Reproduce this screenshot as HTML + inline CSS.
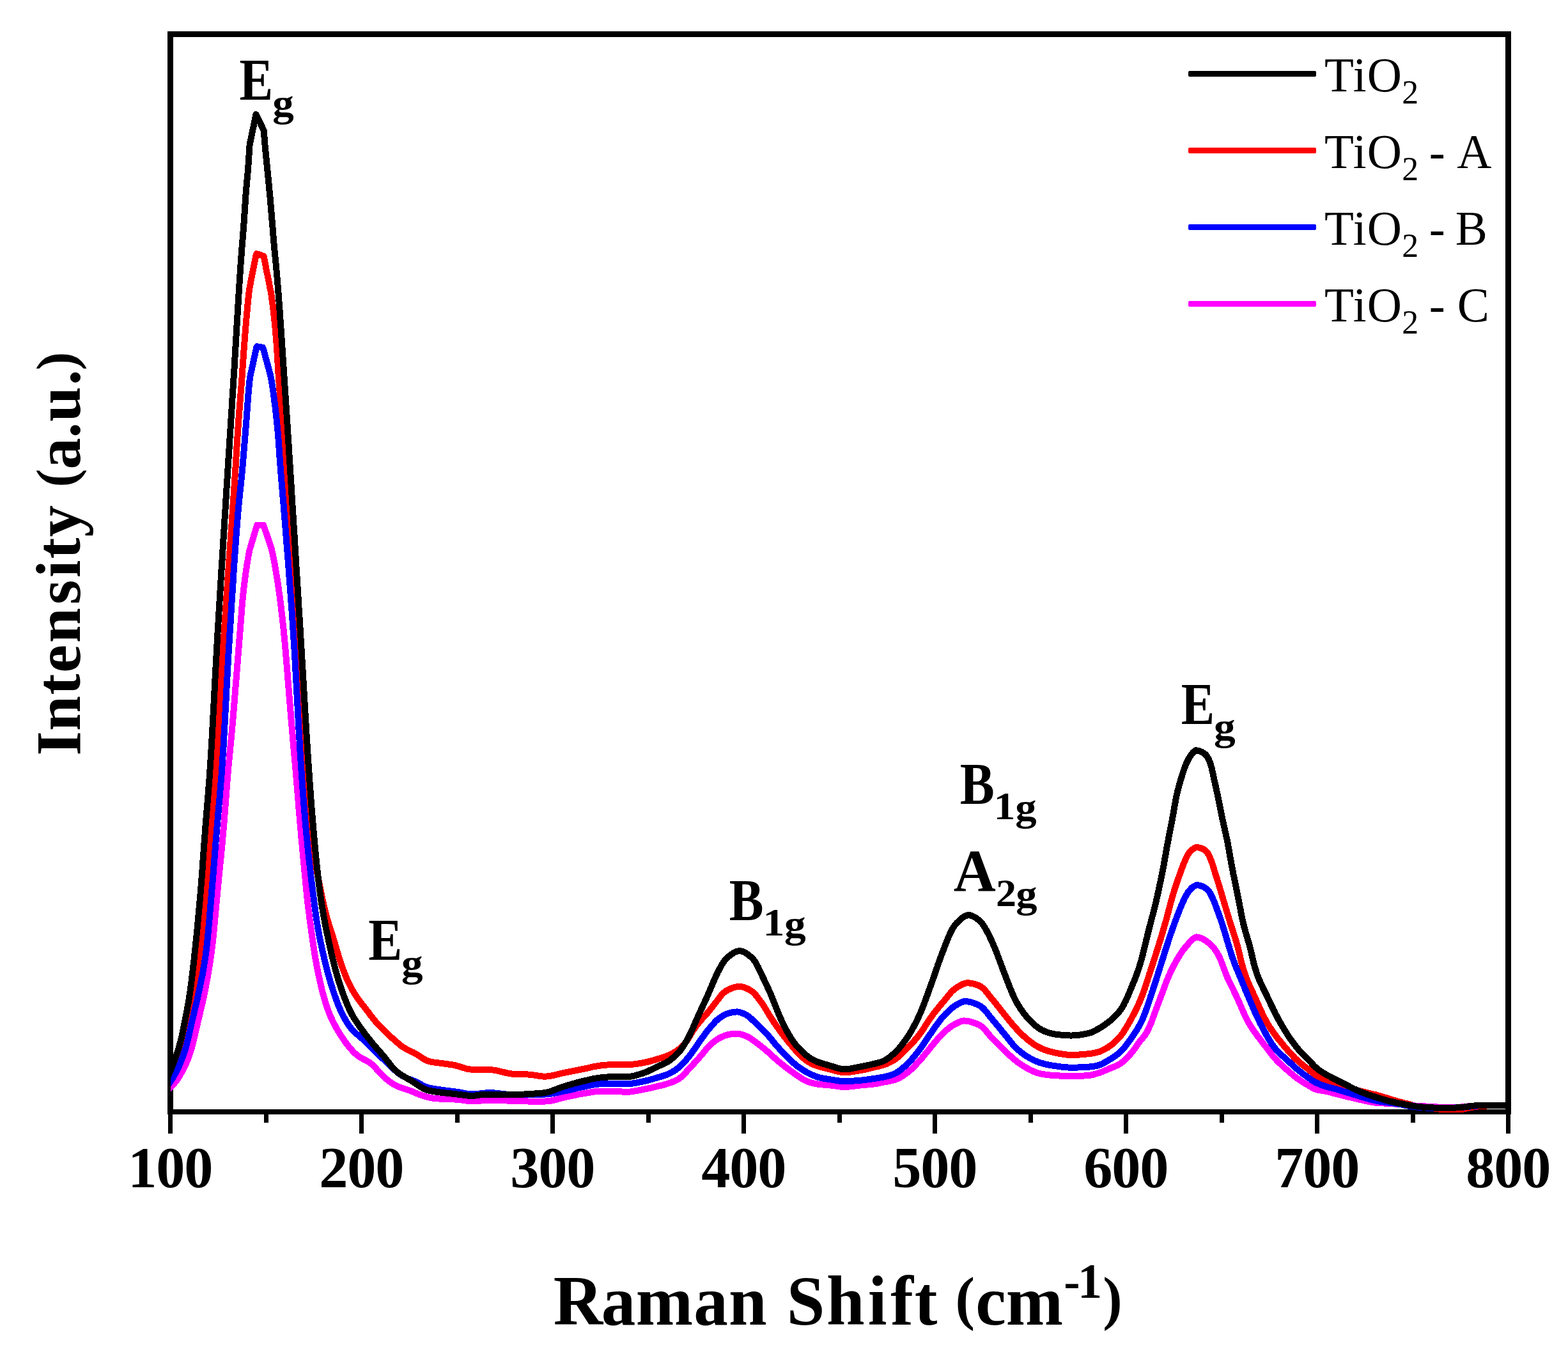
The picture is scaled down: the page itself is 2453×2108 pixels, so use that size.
<!DOCTYPE html>
<html lang="en"><head><meta charset="utf-8"><title>Raman spectra of TiO2 samples</title>
<style>html,body{margin:0;padding:0;background:#fff}body{width:2453px;height:2108px;overflow:hidden}svg{display:block}text{font-family:"Liberation Serif","DejaVu Serif",serif;font-kerning:none;white-space:pre}</style></head><body>
<svg width="2453" height="2108" viewBox="0 0 2453 2108">
<rect width="2453" height="2108" fill="#fff"/>
<g shape-rendering="crispEdges" fill="#000">
<rect x="262" y="49" width="2102" height="9"/>
<rect x="262" y="1736" width="2102" height="8"/>
<rect x="262" y="49" width="9" height="1695"/>
<rect x="2355" y="49" width="9" height="1695"/>
<rect x="263.0" y="1744" width="7" height="30"/>
<rect x="562.0" y="1744" width="7" height="30"/>
<rect x="861.0" y="1744" width="7" height="30"/>
<rect x="1160.0" y="1744" width="7" height="30"/>
<rect x="1459.0" y="1744" width="7" height="30"/>
<rect x="1758.0" y="1744" width="7" height="30"/>
<rect x="2057.0" y="1744" width="7" height="30"/>
<rect x="2356.0" y="1744" width="7" height="30"/>
<rect x="412.5" y="1744" width="7" height="13"/>
<rect x="711.5" y="1744" width="7" height="13"/>
<rect x="1010.5" y="1744" width="7" height="13"/>
<rect x="1309.5" y="1744" width="7" height="13"/>
<rect x="1608.5" y="1744" width="7" height="13"/>
<rect x="1907.5" y="1744" width="7" height="13"/>
<rect x="2206.5" y="1744" width="7" height="13"/>
</g>
<defs><clipPath id="plot"><rect x="267" y="54" width="2093" height="1690"/></clipPath></defs>
<g clip-path="url(#plot)" shape-rendering="crispEdges" fill="none" stroke-width="10" stroke-linejoin="round" stroke-linecap="butt">
<path d="M255.0 1702.0 L256.3 1699.3 L257.6 1696.6 L258.9 1693.9 L260.2 1691.2 L261.5 1688.5 L262.8 1685.8 L264.0 1683.0 L265.3 1680.3 L266.5 1677.6 L267.7 1674.8 L268.9 1672.1 L270.0 1669.3 L271.2 1666.5 L272.4 1663.8 L273.5 1661.0 L274.7 1658.2 L275.8 1655.4 L276.9 1652.6 L278.0 1649.8 L279.0 1647.0 L280.0 1644.2 L281.0 1641.4 L281.9 1638.5 L282.8 1635.7 L283.6 1632.8 L284.4 1629.9 L285.2 1627.0 L285.9 1624.1 L286.7 1621.2 L287.4 1618.2 L288.0 1615.3 L288.7 1612.4 L289.4 1609.5 L290.0 1606.5 L290.7 1603.6 L291.4 1600.7 L292.1 1597.8 L292.8 1594.9 L293.5 1591.9 L294.2 1589.0 L294.9 1586.1 L295.6 1583.2 L296.2 1580.3 L296.9 1577.3 L297.6 1574.4 L298.2 1571.5 L298.9 1568.6 L299.5 1565.6 L300.1 1562.7 L300.7 1559.7 L301.3 1556.8 L301.9 1553.9 L302.5 1550.9 L303.0 1548.0 L303.6 1545.0 L304.1 1542.1 L304.7 1539.1 L305.2 1536.2 L305.7 1533.2 L306.2 1530.2 L306.7 1527.3 L307.2 1524.3 L307.7 1521.4 L308.2 1518.4 L308.6 1515.4 L309.1 1512.5 L309.5 1509.5 L310.0 1506.5 L310.4 1503.6 L310.8 1500.6 L311.2 1497.6 L311.6 1494.7 L312.0 1491.7 L312.4 1488.7 L312.8 1485.7 L313.2 1482.7 L313.5 1479.8 L313.9 1476.8 L314.2 1473.8 L314.6 1470.8 L314.9 1467.8 L315.2 1464.9 L315.5 1461.9 L315.8 1458.9 L316.1 1455.9 L316.4 1452.9 L316.7 1449.9 L317.0 1447.0 L317.3 1444.0 L317.6 1441.0 L317.9 1438.0 L318.2 1435.0 L318.5 1432.0 L318.7 1429.0 L319.0 1426.0 L319.3 1423.1 L319.6 1420.1 L319.8 1417.1 L320.1 1414.1 L320.4 1411.1 L320.6 1408.1 L320.9 1405.1 L321.2 1402.1 L321.5 1399.1 L321.7 1396.2 L322.0 1393.2 L322.2 1390.2 L322.5 1387.2 L322.8 1384.2 L323.0 1381.2 L323.3 1378.2 L323.5 1375.2 L323.7 1372.2 L324.0 1369.3 L324.2 1366.3 L324.5 1363.3 L324.7 1360.3 L324.9 1357.3 L325.2 1354.3 L325.4 1351.3 L325.6 1348.3 L325.8 1345.3 L326.1 1342.3 L326.3 1339.3 L326.5 1336.3 L326.8 1333.4 L327.0 1330.4 L327.2 1327.4 L327.5 1324.4 L327.7 1321.4 L327.9 1318.4 L328.2 1315.4 L328.4 1312.4 L328.6 1309.4 L328.9 1306.4 L329.1 1303.4 L329.4 1300.4 L329.6 1297.5 L329.9 1294.5 L330.2 1291.5 L330.4 1288.5 L330.7 1285.5 L331.0 1282.5 L331.2 1279.5 L331.5 1276.5 L331.8 1273.6 L332.1 1270.6 L332.4 1267.6 L332.7 1264.6 L333.0 1261.6 L333.3 1258.6 L333.6 1255.6 L333.9 1252.7 L334.2 1249.7 L334.5 1246.7 L334.7 1243.7 L335.0 1240.7 L335.3 1237.7 L335.6 1234.7 L335.9 1231.7 L336.1 1228.8 L336.4 1225.8 L336.7 1222.8 L336.9 1219.8 L337.2 1216.8 L337.4 1213.8 L337.6 1210.8 L337.9 1207.8 L338.1 1204.8 L338.3 1201.8 L338.6 1198.8 L338.8 1195.9 L339.0 1192.9 L339.2 1189.9 L339.4 1186.9 L339.6 1183.9 L339.8 1180.9 L340.0 1177.9 L340.2 1174.9 L340.3 1171.9 L340.5 1168.9 L340.7 1165.9 L340.9 1162.9 L341.1 1159.9 L341.3 1156.9 L341.4 1153.9 L341.6 1150.9 L341.8 1147.9 L341.9 1144.9 L342.1 1142.0 L342.3 1139.0 L342.5 1136.0 L342.6 1133.0 L342.8 1130.0 L343.0 1127.0 L343.1 1124.0 L343.3 1121.0 L343.4 1118.0 L343.6 1115.0 L343.8 1112.0 L343.9 1109.0 L344.1 1106.0 L344.3 1103.0 L344.4 1100.0 L344.6 1097.0 L344.7 1094.0 L344.9 1091.0 L345.1 1088.0 L345.2 1085.0 L345.4 1082.0 L345.5 1079.0 L345.7 1076.0 L345.9 1073.0 L346.0 1070.0 L346.2 1067.0 L346.4 1064.1 L346.5 1061.1 L346.7 1058.1 L346.8 1055.1 L347.0 1052.1 L347.2 1049.1 L347.3 1046.1 L347.5 1043.1 L347.7 1040.1 L347.8 1037.1 L348.0 1034.1 L348.2 1031.1 L348.3 1028.1 L348.5 1025.1 L348.7 1022.1 L348.9 1019.1 L349.0 1016.1 L349.2 1013.1 L349.4 1010.1 L349.6 1007.1 L349.8 1004.1 L350.0 1001.1 L350.1 998.2 L350.3 995.2 L350.5 992.2 L350.7 989.2 L350.9 986.2 L351.1 983.2 L351.3 980.2 L351.5 977.2 L351.7 974.2 L351.9 971.2 L352.1 968.2 L352.3 965.2 L352.5 962.2 L352.7 959.2 L352.9 956.2 L353.1 953.2 L353.3 950.2 L353.5 947.3 L353.7 944.3 L353.9 941.3 L354.1 938.3 L354.3 935.3 L354.5 932.3 L354.7 929.3 L354.9 926.3 L355.1 923.3 L355.4 920.3 L355.6 917.3 L355.8 914.3 L356.0 911.3 L356.2 908.3 L356.4 905.3 L356.6 902.4 L356.8 899.4 L357.0 896.4 L357.3 893.4 L357.5 890.4 L357.7 887.4 L357.9 884.4 L358.1 881.4 L358.3 878.4 L358.5 875.4 L358.7 872.4 L359.0 869.4 L359.2 866.4 L359.4 863.4 L359.6 860.5 L359.8 857.5 L360.0 854.5 L360.2 851.5 L360.5 848.5 L360.7 845.5 L360.9 842.5 L361.1 839.5 L361.3 836.5 L361.5 833.5 L361.7 830.5 L361.9 827.5 L362.1 824.5 L362.4 821.5 L362.6 818.5 L362.8 815.6 L363.0 812.6 L363.2 809.6 L363.4 806.6 L363.6 803.6 L363.8 800.6 L364.0 797.6 L364.2 794.6 L364.4 791.6 L364.6 788.6 L364.8 785.6 L365.1 782.6 L365.3 779.6 L365.5 776.6 L365.7 773.6 L365.9 770.7 L366.1 767.7 L366.3 764.7 L366.5 761.7 L366.7 758.7 L366.9 755.7 L367.1 752.7 L367.3 749.7 L367.5 746.7 L367.7 743.7 L367.9 740.7 L368.1 737.7 L368.3 734.7 L368.5 731.7 L368.7 728.7 L368.8 725.7 L369.0 722.8 L369.2 719.8 L369.4 716.8 L369.6 713.8 L369.8 710.8 L370.0 707.8 L370.1 704.8 L370.3 701.8 L370.5 698.8 L370.7 695.8 L370.9 692.8 L371.1 689.8 L371.3 686.8 L371.5 683.8 L371.6 680.8 L371.8 677.8 L372.1 674.8 L372.3 671.8 L372.5 668.9 L372.7 665.9 L372.9 662.9 L373.1 659.9 L373.3 656.9 L373.6 653.9 L373.8 650.9 L374.0 647.9 L374.2 644.9 L374.5 641.9 L374.7 638.9 L375.0 635.9 L375.2 632.9 L375.4 630.0 L375.7 627.0 L375.9 624.0 L376.1 621.0 L376.4 618.0 L376.6 615.0 L376.9 612.0 L377.1 609.0 L377.3 606.0 L377.6 603.0 L377.8 600.0 L378.0 597.1 L378.2 594.1 L378.5 591.1 L378.7 588.1 L378.9 585.1 L379.1 582.1 L379.3 579.1 L379.5 576.1 L379.7 573.1 L380.0 570.1 L380.2 567.1 L380.4 564.1 L380.6 561.1 L380.8 558.1 L381.0 555.2 L381.2 552.2 L381.4 549.2 L381.7 546.2 L381.9 543.2 L382.1 540.2 L382.3 537.2 L382.6 534.2 L382.8 531.2 L383.0 528.2 L383.3 525.2 L383.5 522.2 L383.8 519.3 L384.0 516.3 L384.3 513.3 L384.5 510.3 L384.8 507.3 L385.0 504.3 L385.3 501.3 L385.5 498.3 L385.8 495.3 L386.1 492.3 L386.3 489.4 L386.6 486.4 L386.9 483.4 L387.1 480.4 L387.4 477.4 L387.7 474.4 L388.0 471.4 L388.3 468.4 L388.6 465.5 L389.0 462.5 L389.3 459.5 L389.6 456.5 L390.0 453.5 L390.4 450.6 L390.6 449.6 L391.0 447.6 L391.6 444.7 L392.1 441.7 L392.7 438.8 L393.3 435.9 L393.9 432.9 L394.5 430.0 L395.1 427.0 L395.6 424.1 L396.2 421.1 L396.8 418.2 L397.4 415.2 L398.0 412.3 L398.5 409.4 L399.1 406.4 L399.7 403.5 L400.3 400.6 L401.0 397.8 L401.4 397.1 L403.3 397.7 L406.2 398.6 L409.0 399.5 L411.6 400.6 L412.5 401.0 L412.9 402.9 L413.5 405.9 L414.1 408.8 L414.7 411.8 L415.3 414.7 L415.8 417.6 L416.4 420.6 L417.0 423.5 L417.6 426.5 L418.2 429.4 L418.8 432.4 L419.4 435.3 L420.0 438.2 L420.6 441.2 L421.2 444.1 L421.7 447.1 L422.3 450.0 L422.9 452.9 L423.5 455.9 L423.7 456.9 L424.0 458.8 L424.5 461.8 L424.9 464.8 L425.3 467.7 L425.7 470.7 L426.1 473.7 L426.5 476.7 L426.9 479.6 L427.3 482.6 L427.6 485.6 L428.0 488.6 L428.3 491.6 L428.6 494.6 L428.9 497.5 L429.3 500.5 L429.6 503.5 L429.9 506.5 L430.2 509.5 L430.5 512.5 L430.7 515.4 L431.0 518.4 L431.3 521.4 L431.5 524.4 L431.8 527.4 L432.0 530.4 L432.3 533.4 L432.5 536.4 L432.7 539.4 L432.9 542.4 L433.1 545.4 L433.3 548.4 L433.5 551.3 L433.7 554.3 L433.9 557.3 L434.0 560.3 L434.2 563.3 L434.4 566.3 L434.6 569.3 L434.8 572.3 L435.0 575.3 L435.1 578.3 L435.3 581.3 L435.5 584.3 L435.7 587.3 L435.9 590.3 L436.1 593.3 L436.3 596.3 L436.6 599.3 L436.8 602.2 L437.0 605.2 L437.2 608.2 L437.5 611.2 L437.7 614.2 L437.9 617.2 L438.2 620.2 L438.4 623.2 L438.7 626.2 L438.9 629.2 L439.2 632.2 L439.4 635.1 L439.7 638.1 L439.9 641.1 L440.2 644.1 L440.4 647.1 L440.7 650.1 L440.9 653.1 L441.2 656.1 L441.4 659.1 L441.6 662.1 L441.8 665.1 L442.1 668.0 L442.3 671.0 L442.5 674.0 L442.7 677.0 L442.9 680.0 L443.1 683.0 L443.3 686.0 L443.5 689.0 L443.7 692.0 L443.9 695.0 L444.1 698.0 L444.3 701.0 L444.5 704.0 L444.7 707.0 L444.9 710.0 L445.1 713.0 L445.3 715.9 L445.5 718.9 L445.7 721.9 L445.9 724.9 L446.1 727.9 L446.3 730.9 L446.5 733.9 L446.7 736.9 L446.9 739.9 L447.1 742.9 L447.2 745.9 L447.4 748.9 L447.6 751.9 L447.8 754.9 L448.0 757.9 L448.2 760.9 L448.4 763.9 L448.6 766.8 L448.8 769.8 L449.0 772.8 L449.2 775.8 L449.4 778.8 L449.6 781.8 L449.8 784.8 L449.9 787.8 L450.1 790.8 L450.3 793.8 L450.5 796.8 L450.7 799.8 L450.9 802.8 L451.1 805.8 L451.3 808.8 L451.5 811.8 L451.6 814.8 L451.8 817.8 L452.0 820.8 L452.2 823.7 L452.4 826.7 L452.6 829.7 L452.8 832.7 L452.9 835.7 L453.1 838.7 L453.3 841.7 L453.5 844.7 L453.7 847.7 L453.9 850.7 L454.0 853.7 L454.2 856.7 L454.4 859.7 L454.6 862.7 L454.8 865.7 L455.0 868.7 L455.1 871.7 L455.3 874.7 L455.5 877.7 L455.7 880.6 L455.9 883.6 L456.0 886.6 L456.2 889.6 L456.4 892.6 L456.6 895.6 L456.8 898.6 L457.0 901.6 L457.1 904.6 L457.3 907.6 L457.5 910.6 L457.7 913.6 L457.9 916.6 L458.1 919.6 L458.2 922.6 L458.4 925.6 L458.6 928.6 L458.8 931.6 L459.0 934.6 L459.2 937.6 L459.4 940.5 L459.5 943.5 L459.7 946.5 L459.9 949.5 L460.1 952.5 L460.3 955.5 L460.5 958.5 L460.7 961.5 L460.9 964.5 L461.1 967.5 L461.3 970.5 L461.5 973.5 L461.6 976.5 L461.8 979.5 L462.0 982.5 L462.2 985.5 L462.4 988.5 L462.6 991.4 L462.8 994.4 L463.0 997.4 L463.2 1000.4 L463.4 1003.4 L463.6 1006.4 L463.8 1009.4 L464.0 1012.4 L464.2 1015.4 L464.4 1018.4 L464.7 1021.4 L464.9 1024.4 L465.1 1027.4 L465.3 1030.4 L465.5 1033.4 L465.7 1036.4 L465.9 1039.3 L466.1 1042.3 L466.3 1045.3 L466.5 1048.3 L466.7 1051.3 L466.9 1054.3 L467.1 1057.3 L467.3 1060.3 L467.6 1063.3 L467.8 1066.3 L468.0 1069.3 L468.2 1072.3 L468.4 1075.3 L468.6 1078.3 L468.8 1081.3 L469.0 1084.2 L469.3 1087.2 L469.5 1090.2 L469.7 1093.2 L469.9 1096.2 L470.1 1099.2 L470.3 1102.2 L470.5 1105.2 L470.8 1108.2 L471.0 1111.2 L471.2 1114.2 L471.4 1117.2 L471.6 1120.2 L471.9 1123.1 L472.1 1126.1 L472.3 1129.1 L472.5 1132.1 L472.7 1135.1 L473.0 1138.1 L473.2 1141.1 L473.4 1144.1 L473.6 1147.1 L473.8 1150.1 L474.1 1153.1 L474.3 1156.1 L474.5 1159.1 L474.7 1162.0 L475.0 1165.0 L475.2 1168.0 L475.4 1171.0 L475.6 1174.0 L475.9 1177.0 L476.1 1180.0 L476.3 1183.0 L476.5 1186.0 L476.8 1189.0 L477.0 1192.0 L477.2 1195.0 L477.5 1198.0 L477.7 1200.9 L477.9 1203.9 L478.1 1206.9 L478.4 1209.9 L478.6 1212.9 L478.8 1215.9 L479.0 1218.9 L479.3 1221.9 L479.5 1224.9 L479.7 1227.9 L479.9 1230.9 L480.1 1233.9 L480.4 1236.9 L480.6 1239.8 L480.8 1242.8 L481.0 1245.8 L481.2 1248.8 L481.5 1251.8 L481.7 1254.8 L481.9 1257.8 L482.1 1260.8 L482.4 1263.8 L482.6 1266.8 L482.8 1269.8 L483.1 1272.8 L483.4 1275.7 L483.6 1278.7 L483.9 1281.7 L484.2 1284.7 L484.5 1287.7 L484.8 1290.7 L485.1 1293.7 L485.4 1296.6 L485.8 1299.6 L486.1 1302.6 L486.5 1305.6 L486.9 1308.6 L487.3 1311.5 L487.7 1314.5 L488.1 1317.5 L488.5 1320.4 L488.9 1323.4 L489.4 1326.4 L489.8 1329.3 L490.3 1332.3 L490.8 1335.3 L491.3 1338.2 L491.8 1341.2 L492.3 1344.1 L492.8 1347.1 L493.4 1350.1 L493.9 1353.0 L494.4 1356.0 L495.0 1358.9 L495.5 1361.9 L496.1 1364.8 L496.6 1367.8 L497.2 1370.7 L497.8 1373.7 L498.3 1376.6 L498.9 1379.5 L499.5 1382.5 L500.1 1385.4 L500.6 1388.4 L501.2 1391.3 L501.8 1394.3 L502.4 1397.2 L503.0 1400.1 L503.7 1403.1 L504.3 1406.0 L504.9 1408.9 L505.6 1411.9 L506.2 1414.8 L506.9 1417.7 L507.5 1420.7 L508.2 1423.6 L508.9 1426.5 L509.7 1429.4 L510.4 1432.3 L511.2 1435.2 L512.0 1438.1 L512.9 1441.0 L513.7 1443.8 L514.6 1446.7 L515.5 1449.6 L516.4 1452.4 L517.3 1455.3 L518.2 1458.1 L519.2 1461.0 L520.1 1463.9 L521.0 1466.7 L521.9 1469.6 L522.7 1472.4 L523.6 1475.3 L524.5 1478.2 L525.3 1481.1 L526.1 1484.0 L527.0 1486.8 L527.8 1489.7 L528.7 1492.6 L529.5 1495.5 L530.4 1498.3 L531.3 1501.2 L532.2 1504.1 L533.1 1506.9 L534.1 1509.8 L535.1 1512.6 L536.1 1515.4 L537.1 1518.2 L538.2 1521.0 L539.3 1523.8 L540.4 1526.6 L541.6 1529.4 L542.7 1532.1 L544.0 1534.9 L545.2 1537.6 L546.6 1540.3 L547.9 1543.0 L549.3 1545.6 L550.7 1548.3 L552.2 1550.9 L553.7 1553.5 L555.3 1556.0 L556.9 1558.5 L558.6 1561.0 L560.3 1563.5 L562.1 1565.9 L563.9 1568.3 L565.7 1570.7 L567.6 1573.0 L569.5 1575.4 L571.3 1577.7 L573.2 1580.1 L575.0 1582.5 L576.8 1584.9 L578.6 1587.3 L580.4 1589.7 L582.2 1592.0 L584.1 1594.4 L586.0 1596.8 L587.9 1599.1 L589.8 1601.3 L591.8 1603.6 L593.9 1605.7 L596.0 1607.9 L598.1 1610.0 L600.2 1612.1 L602.4 1614.2 L604.6 1616.3 L606.8 1618.3 L609.0 1620.3 L611.2 1622.4 L613.4 1624.4 L615.6 1626.4 L617.9 1628.4 L620.1 1630.4 L622.4 1632.4 L624.7 1634.3 L627.0 1636.2 L629.5 1637.9 L632.0 1639.5 L634.6 1641.1 L637.2 1642.5 L639.9 1643.8 L642.6 1645.2 L645.3 1646.5 L647.9 1647.8 L650.6 1649.3 L653.2 1650.8 L655.7 1652.4 L658.2 1654.0 L660.7 1655.7 L663.2 1657.3 L665.8 1658.8 L668.5 1660.0 L671.4 1661.0 L674.3 1661.7 L677.2 1662.2 L680.2 1662.7 L683.2 1663.0 L686.1 1663.4 L689.1 1663.8 L692.1 1664.2 L695.1 1664.6 L698.0 1665.0 L701.0 1665.4 L704.0 1665.9 L706.9 1666.3 L709.9 1666.8 L712.8 1667.4 L715.7 1668.2 L718.6 1669.0 L721.5 1670.0 L724.3 1670.9 L727.2 1671.8 L730.1 1672.6 L733.0 1673.2 L736.0 1673.5 L739.0 1673.7 L742.0 1673.8 L745.0 1673.8 L748.0 1673.9 L751.0 1673.9 L754.0 1673.9 L757.0 1674.0 L760.0 1674.0 L763.0 1674.0 L766.0 1674.1 L768.9 1674.3 L771.9 1674.6 L774.9 1675.0 L777.8 1675.6 L780.8 1676.3 L783.7 1677.0 L786.6 1677.7 L789.5 1678.4 L792.4 1679.1 L795.4 1679.7 L798.3 1680.3 L801.3 1680.6 L804.3 1680.7 L807.3 1680.8 L810.3 1680.8 L813.3 1680.9 L816.3 1680.9 L819.3 1681.0 L822.3 1681.2 L825.2 1681.4 L828.2 1681.7 L831.2 1682.0 L834.2 1682.4 L837.2 1682.8 L840.1 1683.3 L843.1 1683.8 L846.1 1684.2 L849.0 1684.5 L852.0 1684.7 L855.0 1684.5 L858.0 1684.3 L861.0 1683.8 L863.9 1683.3 L866.9 1682.6 L869.8 1681.9 L872.7 1681.2 L875.6 1680.5 L878.5 1679.8 L881.4 1679.1 L884.4 1678.5 L887.3 1677.9 L890.3 1677.4 L893.2 1676.8 L896.1 1676.2 L899.1 1675.6 L902.0 1675.0 L905.0 1674.4 L907.9 1673.8 L910.8 1673.2 L913.8 1672.6 L916.7 1672.0 L919.7 1671.4 L922.6 1670.7 L925.5 1670.0 L928.4 1669.4 L931.4 1668.8 L934.3 1668.3 L937.3 1667.8 L940.3 1667.4 L943.3 1667.1 L946.2 1666.8 L949.2 1666.6 L952.2 1666.3 L955.2 1666.1 L958.2 1666.0 L961.2 1665.9 L964.2 1665.8 L967.2 1665.9 L970.2 1666.0 L973.2 1666.1 L976.2 1666.2 L979.2 1666.3 L980.2 1666.3 L982.2 1666.2 L985.2 1666.1 L988.2 1665.8 L991.2 1665.5 L994.1 1665.1 L997.1 1664.7 L1000.1 1664.2 L1003.0 1663.7 L1006.0 1663.2 L1008.9 1662.7 L1011.9 1662.0 L1014.8 1661.3 L1017.7 1660.6 L1020.6 1659.8 L1023.5 1658.9 L1026.3 1658.1 L1029.2 1657.2 L1032.1 1656.4 L1035.0 1655.5 L1037.8 1654.5 L1040.6 1653.5 L1043.4 1652.5 L1046.2 1651.3 L1048.9 1650.0 L1051.6 1648.7 L1054.2 1647.2 L1056.8 1645.7 L1059.3 1644.0 L1061.7 1642.3 L1064.0 1640.4 L1066.3 1638.4 L1068.4 1636.2 L1070.3 1634.0 L1072.2 1631.7 L1074.0 1629.3 L1075.7 1626.8 L1077.3 1624.3 L1078.8 1621.7 L1080.3 1619.1 L1081.9 1616.5 L1083.5 1614.0 L1085.1 1611.5 L1086.9 1609.0 L1088.6 1606.6 L1090.5 1604.2 L1092.3 1601.9 L1094.2 1599.5 L1096.1 1597.2 L1098.1 1594.9 L1100.0 1592.7 L1102.1 1590.5 L1104.1 1588.3 L1106.1 1586.0 L1108.0 1583.7 L1109.9 1581.4 L1111.8 1579.1 L1113.6 1576.7 L1115.5 1574.3 L1117.3 1571.9 L1119.1 1569.6 L1121.0 1567.2 L1122.8 1564.8 L1124.6 1562.4 L1126.4 1560.1 L1128.3 1557.7 L1130.3 1555.4 L1132.4 1553.4 L1134.8 1551.6 L1137.3 1550.0 L1140.0 1548.6 L1142.7 1547.4 L1145.5 1546.2 L1148.3 1545.2 L1151.2 1544.5 L1154.1 1544.0 L1157.1 1543.7 L1160.1 1544.2 L1163.0 1544.9 L1165.8 1545.8 L1168.5 1547.0 L1171.2 1548.3 L1173.8 1549.8 L1176.3 1551.5 L1178.6 1553.3 L1180.7 1555.5 L1182.7 1557.7 L1184.6 1560.0 L1186.4 1562.4 L1188.2 1564.8 L1190.0 1567.2 L1191.7 1569.7 L1193.4 1572.2 L1195.1 1574.7 L1196.6 1577.2 L1198.2 1579.8 L1199.8 1582.4 L1201.3 1584.9 L1202.8 1587.5 L1204.4 1590.1 L1206.0 1592.6 L1207.6 1595.1 L1209.3 1597.7 L1210.9 1600.1 L1212.6 1602.6 L1214.4 1605.1 L1216.1 1607.5 L1217.8 1609.9 L1219.6 1612.4 L1221.4 1614.8 L1223.2 1617.2 L1225.0 1619.6 L1226.8 1622.0 L1228.7 1624.3 L1230.5 1626.7 L1232.4 1629.1 L1234.2 1631.4 L1236.1 1633.7 L1238.1 1636.0 L1240.0 1638.3 L1242.0 1640.6 L1243.9 1642.8 L1245.9 1645.1 L1247.9 1647.3 L1250.0 1649.5 L1252.1 1651.7 L1254.2 1653.7 L1256.5 1655.7 L1258.9 1657.6 L1261.3 1659.4 L1263.7 1661.1 L1266.2 1662.7 L1268.8 1664.2 L1271.5 1665.5 L1274.3 1666.7 L1277.1 1667.7 L1279.9 1668.7 L1282.8 1669.5 L1285.7 1670.3 L1288.6 1671.1 L1291.5 1671.8 L1294.4 1672.5 L1297.4 1673.2 L1300.3 1673.9 L1303.2 1674.7 L1306.0 1675.5 L1308.9 1676.3 L1311.9 1677.0 L1314.8 1677.5 L1317.8 1677.9 L1320.8 1678.2 L1323.8 1678.1 L1326.7 1677.9 L1329.7 1677.6 L1332.7 1677.3 L1335.7 1676.9 L1338.6 1676.4 L1341.6 1675.9 L1344.6 1675.4 L1347.5 1674.9 L1350.5 1674.4 L1353.4 1673.8 L1356.3 1673.1 L1359.2 1672.4 L1362.2 1671.6 L1365.1 1670.9 L1368.0 1670.1 L1370.9 1669.4 L1373.8 1668.8 L1376.7 1668.1 L1379.6 1667.3 L1382.5 1666.4 L1385.3 1665.4 L1388.1 1664.3 L1390.8 1663.1 L1393.5 1661.8 L1396.2 1660.3 L1398.7 1658.8 L1401.2 1657.2 L1403.6 1655.4 L1405.9 1653.4 L1408.2 1651.4 L1410.3 1649.4 L1412.5 1647.3 L1414.6 1645.1 L1416.7 1643.0 L1418.8 1640.9 L1420.9 1638.8 L1423.0 1636.6 L1425.1 1634.4 L1427.2 1632.3 L1429.2 1630.0 L1431.2 1627.8 L1433.1 1625.5 L1435.1 1623.2 L1436.9 1620.9 L1438.8 1618.5 L1440.5 1616.1 L1442.2 1613.6 L1443.9 1611.1 L1445.5 1608.6 L1447.1 1606.0 L1448.7 1603.5 L1450.3 1601.0 L1452.0 1598.5 L1453.6 1596.0 L1455.3 1593.5 L1457.1 1591.1 L1458.9 1588.6 L1460.7 1586.2 L1462.5 1583.9 L1464.4 1581.5 L1466.2 1579.2 L1468.1 1576.8 L1470.0 1574.5 L1471.9 1572.2 L1473.9 1569.9 L1475.8 1567.6 L1477.7 1565.3 L1479.6 1563.0 L1481.5 1560.6 L1483.4 1558.3 L1485.3 1556.0 L1487.2 1553.7 L1489.3 1551.6 L1491.5 1549.5 L1493.8 1547.6 L1496.3 1545.9 L1498.8 1544.2 L1501.3 1542.7 L1503.9 1541.2 L1506.6 1540.0 L1509.5 1539.0 L1512.4 1538.4 L1513.4 1538.2 L1515.3 1538.4 L1518.3 1538.7 L1521.3 1539.2 L1524.2 1539.9 L1527.0 1540.8 L1529.9 1541.8 L1532.6 1543.0 L1535.2 1544.5 L1537.5 1546.3 L1539.7 1548.4 L1541.7 1550.6 L1543.6 1552.9 L1545.5 1555.2 L1547.3 1557.6 L1549.2 1559.9 L1551.1 1562.3 L1553.0 1564.6 L1554.9 1566.9 L1556.8 1569.2 L1558.7 1571.6 L1560.5 1573.9 L1562.4 1576.3 L1564.2 1578.7 L1566.1 1581.0 L1567.9 1583.4 L1569.8 1585.7 L1571.7 1588.1 L1573.6 1590.4 L1575.4 1592.7 L1577.3 1595.1 L1579.2 1597.4 L1581.1 1599.7 L1583.0 1602.0 L1585.0 1604.3 L1586.9 1606.6 L1588.9 1608.8 L1591.0 1611.0 L1593.0 1613.2 L1595.1 1615.3 L1597.3 1617.5 L1599.4 1619.6 L1601.6 1621.6 L1603.8 1623.6 L1606.1 1625.6 L1608.4 1627.5 L1610.8 1629.3 L1613.1 1631.2 L1615.6 1632.9 L1618.0 1634.6 L1620.5 1636.3 L1623.1 1637.8 L1625.7 1639.2 L1628.5 1640.5 L1631.2 1641.7 L1634.0 1642.8 L1636.8 1643.8 L1639.7 1644.7 L1642.6 1645.5 L1645.5 1646.3 L1648.4 1646.9 L1651.3 1647.6 L1654.3 1648.2 L1657.2 1648.8 L1660.2 1649.3 L1663.1 1649.8 L1666.1 1650.2 L1669.1 1650.6 L1672.1 1650.8 L1675.1 1651.0 L1676.1 1651.0 L1678.1 1651.0 L1681.1 1650.9 L1684.1 1650.8 L1687.1 1650.6 L1690.0 1650.4 L1693.0 1650.2 L1696.0 1649.9 L1699.0 1649.6 L1702.0 1649.3 L1705.0 1649.0 L1708.0 1648.6 L1710.9 1648.1 L1713.8 1647.5 L1716.8 1646.8 L1719.6 1645.9 L1722.4 1644.8 L1725.1 1643.6 L1727.8 1642.2 L1730.4 1640.7 L1733.0 1639.2 L1735.5 1637.5 L1737.9 1635.8 L1740.3 1634.0 L1742.6 1632.0 L1744.8 1630.0 L1746.9 1627.9 L1749.0 1625.7 L1751.0 1623.5 L1753.0 1621.2 L1754.8 1618.9 L1756.6 1616.5 L1758.2 1614.0 L1759.9 1611.4 L1761.4 1608.9 L1763.0 1606.3 L1764.5 1603.7 L1766.0 1601.1 L1767.5 1598.5 L1768.9 1595.9 L1770.4 1593.3 L1771.8 1590.6 L1773.2 1588.0 L1774.6 1585.3 L1775.9 1582.6 L1777.3 1579.9 L1778.6 1577.2 L1779.9 1574.5 L1781.1 1571.8 L1782.3 1569.0 L1783.5 1566.3 L1784.7 1563.5 L1785.8 1560.7 L1786.8 1557.9 L1787.9 1555.1 L1788.9 1552.3 L1789.9 1549.5 L1790.9 1546.6 L1791.8 1543.8 L1792.8 1540.9 L1793.7 1538.1 L1794.7 1535.2 L1795.6 1532.4 L1796.5 1529.5 L1797.4 1526.7 L1798.3 1523.8 L1799.3 1521.0 L1800.2 1518.1 L1801.1 1515.3 L1802.1 1512.4 L1803.0 1509.5 L1803.9 1506.7 L1804.8 1503.8 L1805.8 1501.0 L1806.7 1498.1 L1807.6 1495.3 L1808.5 1492.4 L1809.4 1489.6 L1810.3 1486.7 L1811.2 1483.8 L1812.1 1481.0 L1813.0 1478.1 L1813.9 1475.2 L1814.8 1472.4 L1815.6 1469.5 L1816.5 1466.6 L1817.4 1463.7 L1818.2 1460.9 L1819.1 1458.0 L1819.9 1455.1 L1820.8 1452.2 L1821.6 1449.4 L1822.4 1446.5 L1823.2 1443.6 L1824.1 1440.7 L1824.9 1437.8 L1825.6 1434.9 L1826.4 1432.0 L1827.2 1429.1 L1828.0 1426.2 L1828.7 1423.3 L1829.5 1420.4 L1830.3 1417.5 L1831.0 1414.6 L1831.8 1411.7 L1832.6 1408.8 L1833.4 1405.9 L1834.2 1403.0 L1835.1 1400.2 L1835.9 1397.3 L1836.8 1394.4 L1837.7 1391.5 L1838.6 1388.7 L1839.5 1385.8 L1840.5 1383.0 L1841.4 1380.1 L1842.4 1377.3 L1843.4 1374.5 L1844.4 1371.7 L1845.5 1368.8 L1846.5 1366.0 L1847.5 1363.2 L1848.5 1360.3 L1849.6 1357.5 L1850.6 1354.7 L1851.7 1351.8 L1852.9 1349.1 L1854.1 1346.3 L1855.3 1343.6 L1856.6 1341.0 L1858.0 1338.3 L1859.5 1335.8 L1861.3 1333.4 L1863.3 1331.2 L1865.5 1329.2 L1868.0 1327.5 L1870.6 1326.3 L1871.5 1325.9 L1873.5 1326.2 L1876.5 1326.7 L1879.3 1327.5 L1882.1 1328.6 L1884.6 1330.2 L1886.9 1332.1 L1888.8 1334.3 L1890.3 1336.8 L1891.6 1339.3 L1892.8 1342.0 L1894.0 1344.7 L1895.1 1347.5 L1896.1 1350.4 L1897.1 1353.3 L1898.0 1356.2 L1898.9 1359.1 L1899.7 1362.0 L1900.6 1364.9 L1901.5 1367.8 L1902.4 1370.7 L1903.3 1373.5 L1904.2 1376.4 L1905.1 1379.2 L1906.0 1382.1 L1906.9 1385.0 L1907.7 1387.8 L1908.6 1390.7 L1909.5 1393.6 L1910.3 1396.5 L1911.2 1399.3 L1912.0 1402.2 L1912.9 1405.1 L1913.7 1408.0 L1914.6 1410.9 L1915.4 1413.7 L1916.3 1416.6 L1917.2 1419.5 L1918.0 1422.4 L1918.9 1425.2 L1919.7 1428.1 L1920.6 1431.0 L1921.4 1433.9 L1922.3 1436.7 L1923.2 1439.6 L1924.1 1442.5 L1925.0 1445.3 L1925.9 1448.2 L1926.8 1451.0 L1927.7 1453.9 L1928.7 1456.7 L1929.6 1459.6 L1930.5 1462.5 L1931.5 1465.3 L1932.4 1468.2 L1933.2 1471.0 L1934.1 1473.9 L1934.9 1476.8 L1935.7 1479.7 L1936.5 1482.6 L1937.3 1485.5 L1938.0 1488.4 L1938.7 1491.3 L1939.4 1494.2 L1940.1 1497.2 L1940.7 1500.1 L1941.4 1503.0 L1942.2 1505.9 L1942.9 1508.8 L1943.7 1511.7 L1944.5 1514.6 L1945.3 1517.5 L1946.2 1520.3 L1947.2 1523.2 L1948.2 1526.0 L1949.2 1528.8 L1950.3 1531.6 L1951.4 1534.4 L1952.6 1537.2 L1953.8 1539.9 L1955.0 1542.7 L1956.2 1545.4 L1957.5 1548.1 L1958.7 1550.8 L1960.0 1553.6 L1961.2 1556.3 L1962.5 1559.0 L1963.7 1561.8 L1965.0 1564.5 L1966.2 1567.2 L1967.4 1570.0 L1968.6 1572.7 L1969.8 1575.5 L1971.1 1578.2 L1972.3 1580.9 L1973.6 1583.7 L1974.8 1586.4 L1976.2 1589.1 L1977.5 1591.8 L1978.9 1594.4 L1980.3 1597.1 L1981.8 1599.7 L1983.3 1602.3 L1984.8 1604.8 L1986.4 1607.4 L1988.1 1609.9 L1989.8 1612.4 L1991.5 1614.8 L1993.2 1617.3 L1995.0 1619.7 L1996.8 1622.1 L1998.6 1624.4 L2000.5 1626.8 L2002.4 1629.1 L2004.3 1631.5 L2006.2 1633.8 L2008.1 1636.1 L2010.0 1638.4 L2012.0 1640.7 L2013.9 1642.9 L2015.9 1645.2 L2017.9 1647.4 L2019.9 1649.7 L2022.0 1651.9 L2024.0 1654.0 L2026.1 1656.2 L2028.3 1658.3 L2030.5 1660.3 L2032.7 1662.3 L2035.0 1664.2 L2037.4 1666.1 L2039.7 1668.0 L2042.1 1669.8 L2044.5 1671.6 L2046.8 1673.5 L2049.1 1675.4 L2051.4 1677.4 L2053.7 1679.3 L2056.0 1681.2 L2058.5 1682.9 L2061.1 1684.4 L2063.7 1685.7 L2066.5 1686.9 L2069.3 1688.0 L2072.1 1689.1 L2074.8 1690.3 L2077.6 1691.6 L2080.3 1692.8 L2083.0 1694.1 L2085.7 1695.3 L2088.5 1696.5 L2091.3 1697.6 L2094.1 1698.7 L2096.9 1699.8 L2099.7 1700.8 L2102.6 1701.7 L2105.4 1702.5 L2108.4 1703.2 L2111.3 1703.9 L2114.2 1704.5 L2117.2 1705.0 L2120.1 1705.6 L2123.0 1706.3 L2126.0 1706.9 L2128.9 1707.6 L2131.8 1708.3 L2134.7 1709.1 L2137.6 1709.8 L2140.5 1710.5 L2143.5 1711.2 L2146.4 1711.9 L2149.3 1712.6 L2152.2 1713.3 L2155.1 1714.1 L2158.0 1714.9 L2160.9 1715.8 L2163.7 1716.6 L2166.6 1717.5 L2169.5 1718.4 L2172.3 1719.3 L2175.2 1720.2 L2178.1 1721.1 L2180.9 1721.9 L2183.8 1722.8 L2186.7 1723.6 L2189.6 1724.4 L2192.5 1725.1 L2195.4 1725.9 L2198.3 1726.6 L2201.2 1727.3 L2204.2 1728.0 L2207.1 1728.8 L2210.0 1729.6 L2212.8 1730.4 L2215.8 1731.1 L2218.7 1731.7 L2221.7 1732.2 L2224.6 1732.6 L2227.6 1732.9 L2230.6 1733.1 L2233.6 1733.4 L2236.6 1733.7 L2239.6 1734.0 L2242.5 1734.4 L2245.5 1734.8 L2248.5 1735.1 L2251.5 1735.5 L2254.5 1735.8 L2257.4 1736.0 L2260.4 1736.2 L2261.4 1736.2 L2263.4 1736.2 L2266.4 1736.2 L2269.4 1736.2 L2272.4 1736.1 L2275.4 1736.1 L2278.4 1736.1 L2281.4 1736.0 L2284.4 1735.9 L2287.4 1735.7 L2290.4 1735.4 L2293.3 1734.8 L2296.3 1734.2 L2299.2 1733.6 L2302.2 1733.0 L2305.1 1732.5 L2308.1 1732.1 L2311.1 1731.6 L2314.0 1731.3 L2317.0 1731.0 L2320.0 1730.8 L2323.0 1730.6 L2326.0 1730.5 L2329.0 1730.4 L2332.0 1730.3 L2335.0 1730.3 L2338.0 1730.2 L2341.0 1730.1 L2344.0 1730.1 L2347.0 1730.0 L2350.0 1730.0 L2353.0 1729.9 L2356.0 1729.9 L2359.0 1729.8 L2362.0 1729.8 L2365.0 1729.7 L2368.0 1729.6 L2370.0 1729.6" stroke="#ff0000"/>
<path d="M255.0 1713.5 L257.2 1711.4 L259.3 1709.3 L261.5 1707.2 L263.6 1705.1 L265.7 1703.0 L267.8 1700.8 L269.8 1698.6 L271.9 1696.4 L273.8 1694.1 L275.7 1691.8 L277.4 1689.4 L279.1 1686.9 L280.6 1684.3 L282.1 1681.7 L283.6 1679.1 L285.0 1676.5 L286.5 1673.8 L287.9 1671.2 L289.2 1668.5 L290.5 1665.8 L291.7 1663.0 L292.9 1660.3 L294.0 1657.5 L295.0 1654.7 L296.1 1651.9 L297.0 1649.0 L298.0 1646.2 L298.8 1643.3 L299.7 1640.4 L300.4 1637.5 L301.2 1634.6 L301.9 1631.7 L302.7 1628.8 L303.4 1625.9 L304.1 1623.0 L304.8 1620.0 L305.4 1617.1 L306.1 1614.2 L306.8 1611.3 L307.5 1608.4 L308.2 1605.4 L308.9 1602.5 L309.5 1599.6 L310.2 1596.7 L310.9 1593.8 L311.6 1590.8 L312.3 1587.9 L313.0 1585.0 L313.7 1582.1 L314.4 1579.2 L315.1 1576.2 L315.8 1573.3 L316.4 1570.4 L317.1 1567.5 L317.7 1564.5 L318.4 1561.6 L319.0 1558.7 L319.6 1555.7 L320.2 1552.8 L320.8 1549.8 L321.4 1546.9 L321.9 1544.0 L322.5 1541.0 L323.1 1538.1 L323.6 1535.1 L324.2 1532.2 L324.7 1529.2 L325.2 1526.3 L325.7 1523.3 L326.3 1520.3 L326.7 1517.4 L327.2 1514.4 L327.7 1511.5 L328.2 1508.5 L328.6 1505.5 L329.1 1502.6 L329.5 1499.6 L329.9 1496.6 L330.4 1493.6 L330.8 1490.7 L331.1 1487.7 L331.5 1484.7 L331.9 1481.7 L332.2 1478.8 L332.6 1475.8 L332.9 1472.8 L333.2 1469.8 L333.6 1466.8 L333.9 1463.9 L334.2 1460.9 L334.5 1457.9 L334.7 1454.9 L335.0 1451.9 L335.3 1448.9 L335.6 1445.9 L335.9 1442.9 L336.2 1440.0 L336.4 1437.0 L336.7 1434.0 L337.0 1431.0 L337.3 1428.0 L337.5 1425.0 L337.8 1422.0 L338.1 1419.0 L338.3 1416.1 L338.6 1413.1 L338.9 1410.1 L339.2 1407.1 L339.5 1404.1 L339.7 1401.1 L340.0 1398.1 L340.3 1395.1 L340.6 1392.2 L340.9 1389.2 L341.2 1386.2 L341.5 1383.2 L341.8 1380.2 L342.1 1377.2 L342.3 1374.2 L342.6 1371.2 L342.9 1368.3 L343.2 1365.3 L343.5 1362.3 L343.8 1359.3 L344.1 1356.3 L344.4 1353.3 L344.7 1350.3 L345.0 1347.4 L345.3 1344.4 L345.6 1341.4 L345.9 1338.4 L346.1 1335.4 L346.4 1332.4 L346.7 1329.4 L347.0 1326.4 L347.3 1323.5 L347.6 1320.5 L347.8 1317.5 L348.1 1314.5 L348.4 1311.5 L348.6 1308.5 L348.9 1305.5 L349.2 1302.5 L349.4 1299.6 L349.7 1296.6 L350.0 1293.6 L350.2 1290.6 L350.5 1287.6 L350.7 1284.6 L350.9 1281.6 L351.2 1278.6 L351.4 1275.6 L351.7 1272.6 L351.9 1269.6 L352.1 1266.7 L352.4 1263.7 L352.6 1260.7 L352.8 1257.7 L353.0 1254.7 L353.3 1251.7 L353.5 1248.7 L353.7 1245.7 L354.0 1242.7 L354.2 1239.7 L354.4 1236.7 L354.7 1233.7 L354.9 1230.8 L355.1 1227.8 L355.4 1224.8 L355.6 1221.8 L355.8 1218.8 L356.1 1215.8 L356.3 1212.8 L356.6 1209.8 L356.8 1206.8 L357.1 1203.8 L357.4 1200.9 L357.6 1197.9 L357.9 1194.9 L358.2 1191.9 L358.5 1188.9 L358.8 1185.9 L359.1 1182.9 L359.4 1179.9 L359.7 1177.0 L359.9 1174.0 L360.2 1171.0 L360.5 1168.0 L360.8 1165.0 L361.1 1162.0 L361.4 1159.0 L361.7 1156.0 L362.0 1153.1 L362.3 1150.1 L362.5 1147.1 L362.8 1144.1 L363.1 1141.1 L363.3 1138.1 L363.6 1135.1 L363.9 1132.1 L364.1 1129.2 L364.4 1126.2 L364.6 1123.2 L364.9 1120.2 L365.1 1117.2 L365.4 1114.2 L365.6 1111.2 L365.9 1108.2 L366.1 1105.2 L366.4 1102.2 L366.6 1099.2 L366.8 1096.3 L367.1 1093.3 L367.3 1090.3 L367.6 1087.3 L367.8 1084.3 L368.1 1081.3 L368.3 1078.3 L368.5 1075.3 L368.8 1072.3 L369.0 1069.3 L369.3 1066.4 L369.5 1063.4 L369.8 1060.4 L370.0 1057.4 L370.2 1054.4 L370.5 1051.4 L370.7 1048.4 L370.9 1045.4 L371.2 1042.4 L371.4 1039.4 L371.7 1036.4 L371.9 1033.4 L372.1 1030.5 L372.4 1027.5 L372.6 1024.5 L372.9 1021.5 L373.1 1018.5 L373.3 1015.5 L373.6 1012.5 L373.8 1009.5 L374.1 1006.5 L374.3 1003.5 L374.5 1000.5 L374.8 997.6 L375.0 994.6 L375.3 991.6 L375.5 988.6 L375.7 985.6 L376.0 982.6 L376.2 979.6 L376.4 976.6 L376.7 973.6 L376.9 970.6 L377.1 967.6 L377.4 964.6 L377.6 961.7 L377.8 958.7 L378.1 955.7 L378.3 952.7 L378.5 949.7 L378.8 946.7 L379.1 943.7 L379.3 940.7 L379.6 937.7 L379.9 934.8 L380.2 931.8 L380.5 928.8 L380.8 925.8 L381.1 922.8 L381.5 919.8 L381.8 916.9 L382.2 913.9 L382.6 910.9 L382.9 907.9 L383.3 904.9 L383.7 902.0 L384.1 899.0 L384.5 896.0 L385.0 893.1 L385.4 890.1 L385.8 887.1 L386.3 884.2 L386.8 881.2 L387.3 878.2 L387.8 875.3 L388.3 872.3 L388.8 869.4 L389.4 866.4 L390.0 863.5 L390.6 860.5 L390.8 859.6 L391.4 857.6 L392.3 854.8 L393.1 851.9 L394.0 849.0 L394.8 846.1 L395.7 843.3 L396.5 840.4 L397.4 837.5 L398.2 834.6 L399.1 831.7 L399.9 828.9 L400.8 826.0 L401.7 823.2 L402.4 821.5 L403.4 821.5 L406.4 821.5 L409.4 821.6 L412.3 821.7 L413.2 824.5 L414.2 827.4 L415.1 830.2 L416.1 833.1 L417.1 835.9 L418.0 838.8 L419.0 841.6 L420.0 844.4 L420.9 847.3 L421.9 850.1 L422.8 853.0 L423.8 855.8 L424.4 857.7 L424.7 858.7 L425.4 861.6 L426.0 864.5 L426.7 867.5 L427.3 870.4 L427.9 873.3 L428.5 876.3 L429.0 879.2 L429.6 882.2 L430.1 885.1 L430.6 888.1 L431.1 891.0 L431.6 894.0 L432.1 897.0 L432.6 899.9 L433.1 902.9 L433.5 905.9 L434.0 908.8 L434.5 911.8 L434.9 914.8 L435.4 917.7 L435.8 920.7 L436.2 923.7 L436.6 926.6 L437.1 929.6 L437.5 932.6 L437.9 935.5 L438.3 938.5 L438.6 941.5 L439.0 944.5 L439.4 947.5 L439.7 950.4 L440.1 953.4 L440.4 956.4 L440.8 959.4 L441.1 962.4 L441.5 965.3 L441.8 968.3 L442.1 971.3 L442.4 974.3 L442.8 977.3 L443.1 980.3 L443.4 983.2 L443.7 986.2 L444.0 989.2 L444.3 992.2 L444.6 995.2 L444.9 998.2 L445.2 1001.2 L445.4 1004.1 L445.7 1007.1 L446.0 1010.1 L446.3 1013.1 L446.5 1016.1 L446.8 1019.1 L447.0 1022.1 L447.3 1025.1 L447.5 1028.1 L447.8 1031.0 L448.0 1034.0 L448.3 1037.0 L448.5 1040.0 L448.7 1043.0 L449.0 1046.0 L449.2 1049.0 L449.5 1052.0 L449.7 1055.0 L449.9 1058.0 L450.2 1061.0 L450.4 1063.9 L450.7 1066.9 L450.9 1069.9 L451.2 1072.9 L451.4 1075.9 L451.7 1078.9 L451.9 1081.9 L452.2 1084.9 L452.4 1087.9 L452.6 1090.9 L452.9 1093.9 L453.1 1096.8 L453.4 1099.8 L453.6 1102.8 L453.9 1105.8 L454.1 1108.8 L454.4 1111.8 L454.6 1114.8 L454.9 1117.8 L455.1 1120.8 L455.4 1123.8 L455.6 1126.7 L455.9 1129.7 L456.1 1132.7 L456.4 1135.7 L456.6 1138.7 L456.9 1141.7 L457.1 1144.7 L457.4 1147.7 L457.6 1150.7 L457.9 1153.7 L458.2 1156.6 L458.4 1159.6 L458.7 1162.6 L459.0 1165.6 L459.2 1168.6 L459.5 1171.6 L459.8 1174.6 L460.1 1177.6 L460.3 1180.6 L460.6 1183.5 L460.9 1186.5 L461.1 1189.5 L461.4 1192.5 L461.7 1195.5 L461.9 1198.5 L462.2 1201.5 L462.5 1204.5 L462.7 1207.5 L463.0 1210.4 L463.2 1213.4 L463.5 1216.4 L463.7 1219.4 L464.0 1222.4 L464.2 1225.4 L464.5 1228.4 L464.7 1231.4 L465.0 1234.4 L465.2 1237.4 L465.5 1240.3 L465.7 1243.3 L466.0 1246.3 L466.2 1249.3 L466.5 1252.3 L466.7 1255.3 L466.9 1258.3 L467.2 1261.3 L467.4 1264.3 L467.7 1267.3 L467.9 1270.2 L468.2 1273.2 L468.4 1276.2 L468.7 1279.2 L469.0 1282.2 L469.2 1285.2 L469.5 1288.2 L469.7 1291.2 L470.0 1294.2 L470.3 1297.2 L470.5 1300.1 L470.8 1303.1 L471.1 1306.1 L471.3 1309.1 L471.6 1312.1 L471.9 1315.1 L472.1 1318.1 L472.4 1321.1 L472.7 1324.0 L473.0 1327.0 L473.2 1330.0 L473.5 1333.0 L473.8 1336.0 L474.1 1339.0 L474.4 1342.0 L474.6 1345.0 L474.9 1347.9 L475.2 1350.9 L475.5 1353.9 L475.8 1356.9 L476.1 1359.9 L476.4 1362.9 L476.6 1365.9 L476.9 1368.9 L477.2 1371.8 L477.5 1374.8 L477.8 1377.8 L478.1 1380.8 L478.3 1383.8 L478.6 1386.8 L478.9 1389.8 L479.2 1392.8 L479.5 1395.7 L479.8 1398.7 L480.1 1401.7 L480.4 1404.7 L480.8 1407.7 L481.1 1410.7 L481.4 1413.6 L481.8 1416.6 L482.2 1419.6 L482.5 1422.6 L482.9 1425.6 L483.3 1428.5 L483.7 1431.5 L484.1 1434.5 L484.4 1437.5 L484.8 1440.4 L485.2 1443.4 L485.6 1446.4 L486.0 1449.4 L486.4 1452.3 L486.8 1455.3 L487.2 1458.3 L487.6 1461.2 L488.0 1464.2 L488.4 1467.2 L488.9 1470.2 L489.3 1473.1 L489.7 1476.1 L490.1 1479.1 L490.6 1482.0 L491.0 1485.0 L491.5 1488.0 L492.0 1490.9 L492.4 1493.9 L492.9 1496.9 L493.4 1499.8 L494.0 1502.8 L494.5 1505.7 L495.0 1508.7 L495.6 1511.6 L496.2 1514.6 L496.7 1517.5 L497.3 1520.5 L497.9 1523.4 L498.5 1526.3 L499.2 1529.3 L499.8 1532.2 L500.5 1535.1 L501.1 1538.1 L501.8 1541.0 L502.5 1543.9 L503.2 1546.8 L503.9 1549.7 L504.6 1552.6 L505.4 1555.6 L506.2 1558.5 L507.0 1561.3 L507.8 1564.2 L508.6 1567.1 L509.5 1570.0 L510.4 1572.8 L511.4 1575.7 L512.4 1578.5 L513.4 1581.3 L514.5 1584.1 L515.6 1586.9 L516.7 1589.7 L518.0 1592.4 L519.2 1595.1 L520.5 1597.9 L521.8 1600.5 L523.2 1603.2 L524.7 1605.8 L526.1 1608.5 L527.6 1611.1 L529.1 1613.7 L530.7 1616.2 L532.2 1618.8 L533.8 1621.3 L535.5 1623.8 L537.1 1626.3 L538.8 1628.8 L540.6 1631.3 L542.4 1633.7 L544.2 1636.0 L546.1 1638.4 L548.0 1640.7 L550.0 1642.9 L552.0 1645.1 L554.1 1647.3 L556.3 1649.3 L558.6 1651.3 L561.0 1653.1 L563.5 1654.7 L566.1 1656.2 L568.7 1657.6 L571.4 1659.0 L574.1 1660.4 L576.7 1661.9 L579.2 1663.5 L581.5 1665.3 L583.8 1667.3 L585.9 1669.5 L587.9 1671.7 L589.8 1673.9 L591.8 1676.2 L593.8 1678.5 L595.8 1680.7 L597.9 1682.8 L600.1 1684.9 L602.3 1686.9 L604.6 1688.8 L607.0 1690.6 L609.4 1692.5 L611.8 1694.2 L614.3 1695.9 L616.9 1697.4 L619.5 1698.9 L622.2 1700.1 L625.0 1701.3 L627.8 1702.3 L630.6 1703.2 L633.5 1704.2 L636.4 1705.1 L639.2 1706.0 L642.0 1707.1 L644.8 1708.2 L647.6 1709.3 L650.3 1710.5 L653.1 1711.7 L655.9 1712.8 L658.7 1713.8 L661.6 1714.7 L664.4 1715.6 L667.3 1716.4 L670.2 1717.1 L673.1 1717.8 L676.1 1718.4 L679.0 1718.9 L682.0 1719.2 L685.0 1719.4 L688.0 1719.6 L691.0 1719.8 L694.0 1719.9 L697.0 1720.0 L700.0 1720.1 L703.0 1720.2 L706.0 1720.3 L709.0 1720.4 L712.0 1720.6 L715.0 1720.7 L718.0 1721.0 L721.0 1721.3 L723.9 1721.7 L726.9 1722.2 L729.9 1722.6 L732.8 1723.0 L735.8 1723.3 L737.8 1723.4 L738.8 1723.4 L741.8 1723.3 L744.8 1723.1 L747.8 1722.9 L750.8 1722.7 L753.8 1722.4 L756.8 1722.2 L759.8 1722.0 L762.8 1721.8 L765.8 1721.7 L766.8 1721.7 L768.8 1721.7 L771.8 1721.8 L774.8 1721.9 L777.8 1722.0 L780.8 1722.1 L783.8 1722.2 L786.8 1722.3 L789.8 1722.4 L792.8 1722.5 L795.8 1722.6 L798.8 1722.6 L801.8 1722.7 L804.8 1722.7 L807.8 1722.7 L810.8 1722.8 L813.8 1722.8 L816.8 1722.9 L819.7 1723.0 L822.7 1723.2 L825.7 1723.5 L828.7 1723.8 L831.7 1724.0 L832.7 1724.1 L834.7 1724.1 L837.7 1724.0 L840.7 1724.0 L843.7 1723.9 L846.7 1723.8 L849.7 1723.7 L852.7 1723.5 L855.7 1723.4 L858.7 1723.1 L861.6 1722.7 L864.6 1722.1 L867.5 1721.4 L870.4 1720.7 L873.3 1719.8 L876.2 1719.0 L879.1 1718.2 L882.0 1717.5 L884.9 1716.9 L887.8 1716.2 L890.8 1715.6 L893.7 1715.0 L896.7 1714.4 L899.6 1713.8 L902.5 1713.2 L905.5 1712.6 L908.4 1712.1 L911.4 1711.6 L914.3 1711.1 L917.3 1710.6 L920.3 1710.1 L923.2 1709.6 L926.2 1709.1 L929.1 1708.6 L932.1 1708.2 L935.1 1707.9 L938.1 1707.8 L939.1 1707.7 L941.1 1707.7 L944.1 1707.7 L947.1 1707.7 L950.1 1707.7 L953.1 1707.7 L956.1 1707.7 L959.1 1707.7 L962.1 1707.7 L964.1 1707.7 L965.1 1707.8 L968.1 1708.0 L971.1 1708.3 L974.1 1708.6 L977.0 1708.9 L979.0 1709.0 L980.0 1709.0 L983.0 1708.8 L986.0 1708.5 L989.0 1708.1 L991.9 1707.7 L994.9 1707.1 L997.9 1706.6 L1000.8 1706.0 L1003.7 1705.5 L1006.7 1704.9 L1009.6 1704.3 L1012.6 1703.7 L1015.5 1703.1 L1018.4 1702.5 L1021.4 1701.8 L1024.3 1701.1 L1027.2 1700.4 L1030.1 1699.7 L1033.0 1699.0 L1036.0 1698.3 L1038.9 1697.5 L1041.7 1696.7 L1044.6 1695.8 L1047.5 1694.9 L1050.3 1693.9 L1053.1 1692.8 L1055.8 1691.6 L1058.5 1690.2 L1061.1 1688.8 L1063.6 1687.1 L1066.0 1685.3 L1068.2 1683.3 L1070.3 1681.1 L1072.3 1678.9 L1074.3 1676.7 L1076.3 1674.5 L1078.3 1672.2 L1080.4 1670.0 L1082.4 1667.8 L1084.5 1665.6 L1086.5 1663.4 L1088.5 1661.2 L1090.5 1659.0 L1092.5 1656.7 L1094.5 1654.5 L1096.5 1652.2 L1098.4 1649.9 L1100.3 1647.6 L1102.2 1645.3 L1104.1 1642.9 L1106.0 1640.6 L1108.0 1638.4 L1110.1 1636.2 L1112.3 1634.2 L1114.5 1632.2 L1116.8 1630.3 L1119.2 1628.5 L1121.7 1626.8 L1124.2 1625.2 L1126.8 1623.8 L1129.6 1622.5 L1132.3 1621.3 L1135.1 1620.3 L1138.0 1619.5 L1140.9 1618.8 L1143.9 1618.3 L1146.9 1617.9 L1149.8 1617.6 L1151.8 1617.5 L1152.8 1617.6 L1155.8 1618.0 L1158.7 1618.6 L1161.6 1619.4 L1164.4 1620.4 L1167.2 1621.4 L1170.0 1622.7 L1172.6 1624.1 L1175.1 1625.8 L1177.5 1627.5 L1180.0 1629.2 L1182.4 1631.0 L1184.8 1632.8 L1187.2 1634.6 L1189.6 1636.4 L1191.9 1638.3 L1194.3 1640.2 L1196.6 1642.1 L1198.8 1644.1 L1201.1 1646.0 L1203.4 1648.0 L1205.6 1650.0 L1207.8 1652.1 L1210.0 1654.1 L1212.2 1656.1 L1214.5 1658.1 L1216.7 1660.1 L1219.0 1662.0 L1221.3 1663.9 L1223.7 1665.8 L1226.0 1667.7 L1228.4 1669.5 L1230.8 1671.3 L1233.2 1673.1 L1235.6 1674.9 L1238.0 1676.7 L1240.5 1678.4 L1242.9 1680.1 L1245.4 1681.8 L1247.9 1683.5 L1250.4 1685.2 L1252.8 1686.9 L1255.3 1688.5 L1257.9 1690.1 L1260.6 1691.4 L1263.3 1692.6 L1266.2 1693.5 L1269.0 1694.4 L1271.9 1695.2 L1274.9 1695.9 L1277.8 1696.4 L1280.8 1696.9 L1283.8 1697.2 L1286.7 1697.5 L1289.7 1697.7 L1292.7 1697.9 L1295.7 1698.1 L1298.7 1698.4 L1301.7 1698.8 L1304.7 1699.2 L1307.6 1699.6 L1310.6 1700.0 L1313.6 1700.4 L1316.6 1700.7 L1319.6 1700.8 L1320.6 1700.9 L1322.6 1700.8 L1325.5 1700.7 L1328.5 1700.5 L1331.5 1700.2 L1334.5 1699.9 L1337.5 1699.5 L1340.5 1699.1 L1343.4 1698.7 L1346.4 1698.4 L1349.4 1698.1 L1352.4 1697.8 L1355.4 1697.6 L1358.4 1697.3 L1361.4 1697.0 L1364.3 1696.7 L1367.3 1696.4 L1370.3 1696.0 L1373.3 1695.5 L1376.2 1694.9 L1379.1 1694.2 L1382.1 1693.6 L1385.0 1693.1 L1388.0 1692.6 L1390.9 1692.0 L1393.9 1691.4 L1396.8 1690.7 L1399.6 1689.9 L1402.5 1688.9 L1405.2 1687.7 L1407.9 1686.3 L1410.4 1684.8 L1413.0 1683.2 L1415.5 1681.5 L1417.9 1679.8 L1420.3 1678.0 L1422.7 1676.1 L1424.9 1674.1 L1427.1 1672.1 L1429.2 1670.0 L1431.3 1667.8 L1433.4 1665.6 L1435.4 1663.5 L1437.5 1661.3 L1439.5 1659.0 L1441.5 1656.8 L1443.4 1654.5 L1445.3 1652.2 L1447.2 1649.8 L1449.1 1647.5 L1451.0 1645.2 L1452.9 1642.8 L1454.8 1640.5 L1456.7 1638.2 L1458.6 1635.9 L1460.5 1633.6 L1462.4 1631.3 L1464.3 1629.0 L1466.3 1626.7 L1468.2 1624.4 L1470.2 1622.1 L1472.3 1620.0 L1474.4 1617.8 L1476.6 1615.8 L1478.8 1613.8 L1481.1 1611.8 L1483.4 1609.9 L1485.7 1608.1 L1488.2 1606.3 L1490.7 1604.6 L1493.3 1603.1 L1495.9 1601.7 L1498.6 1600.4 L1501.3 1599.2 L1504.1 1598.2 L1507.0 1597.6 L1508.0 1597.4 L1510.0 1597.6 L1513.0 1597.9 L1515.9 1598.4 L1518.9 1599.1 L1521.7 1600.0 L1524.6 1601.0 L1527.4 1602.0 L1530.1 1603.2 L1532.8 1604.5 L1535.3 1606.1 L1537.6 1608.0 L1539.7 1610.1 L1541.7 1612.4 L1543.6 1614.7 L1545.5 1617.0 L1547.4 1619.3 L1549.4 1621.6 L1551.4 1623.8 L1553.5 1626.0 L1555.6 1628.1 L1557.7 1630.3 L1559.8 1632.4 L1561.9 1634.6 L1564.0 1636.7 L1566.1 1638.8 L1568.3 1640.9 L1570.4 1643.0 L1572.6 1645.0 L1574.8 1647.1 L1577.0 1649.2 L1579.1 1651.2 L1581.4 1653.3 L1583.6 1655.3 L1585.9 1657.2 L1588.2 1659.1 L1590.5 1661.0 L1592.9 1662.8 L1595.4 1664.5 L1597.8 1666.2 L1600.3 1667.9 L1602.9 1669.5 L1605.5 1671.0 L1608.1 1672.4 L1610.8 1673.8 L1613.5 1675.1 L1616.2 1676.4 L1618.9 1677.6 L1621.7 1678.7 L1624.6 1679.6 L1627.5 1680.4 L1630.4 1680.9 L1633.4 1681.4 L1636.3 1681.8 L1639.3 1682.2 L1642.3 1682.5 L1645.3 1682.7 L1648.3 1683.0 L1651.3 1683.1 L1654.3 1683.3 L1657.3 1683.5 L1660.3 1683.7 L1663.3 1683.8 L1666.3 1683.9 L1669.3 1684.0 L1672.3 1684.1 L1675.3 1684.1 L1676.3 1684.1 L1678.3 1684.1 L1681.3 1684.0 L1684.3 1684.0 L1687.3 1683.9 L1690.3 1683.8 L1693.3 1683.6 L1696.3 1683.5 L1699.3 1683.3 L1702.2 1683.0 L1705.2 1682.7 L1708.2 1682.2 L1711.1 1681.5 L1714.0 1680.7 L1716.8 1679.8 L1719.7 1678.9 L1722.5 1677.9 L1725.3 1676.8 L1728.1 1675.6 L1730.8 1674.5 L1733.6 1673.3 L1736.4 1672.1 L1739.1 1671.0 L1741.9 1669.9 L1744.7 1668.7 L1747.4 1667.5 L1750.1 1666.1 L1752.6 1664.5 L1755.1 1662.8 L1757.4 1660.9 L1759.6 1658.9 L1761.8 1656.8 L1763.9 1654.7 L1765.9 1652.5 L1767.9 1650.2 L1769.9 1648.0 L1771.8 1645.7 L1773.6 1643.3 L1775.4 1640.8 L1777.1 1638.4 L1778.8 1635.9 L1780.5 1633.5 L1782.3 1631.0 L1784.1 1628.6 L1786.0 1626.3 L1787.9 1624.1 L1789.9 1621.8 L1791.6 1619.4 L1793.2 1616.9 L1794.6 1614.2 L1796.0 1611.6 L1797.3 1608.9 L1798.5 1606.2 L1799.7 1603.4 L1800.9 1600.7 L1802.0 1597.9 L1803.0 1595.0 L1804.0 1592.2 L1805.0 1589.4 L1806.1 1586.5 L1807.1 1583.7 L1808.1 1580.9 L1809.2 1578.1 L1810.2 1575.3 L1811.3 1572.5 L1812.3 1569.7 L1813.4 1566.9 L1814.4 1564.0 L1815.5 1561.2 L1816.5 1558.4 L1817.6 1555.6 L1818.6 1552.8 L1819.7 1550.0 L1820.7 1547.2 L1821.7 1544.3 L1822.8 1541.5 L1823.8 1538.7 L1824.9 1535.9 L1826.0 1533.1 L1827.2 1530.4 L1828.3 1527.6 L1829.5 1524.9 L1830.8 1522.1 L1832.0 1519.4 L1833.4 1516.7 L1834.7 1514.0 L1836.1 1511.4 L1837.5 1508.7 L1838.9 1506.1 L1840.4 1503.5 L1841.9 1500.9 L1843.4 1498.3 L1845.0 1495.7 L1846.6 1493.2 L1848.3 1490.7 L1850.0 1488.2 L1851.7 1485.8 L1853.6 1483.4 L1855.5 1481.1 L1857.4 1478.8 L1859.4 1476.5 L1861.3 1474.3 L1863.4 1472.1 L1865.5 1470.0 L1867.9 1468.3 L1870.5 1467.0 L1872.4 1466.4 L1873.3 1466.6 L1876.2 1467.3 L1879.1 1468.2 L1881.7 1469.5 L1884.3 1471.0 L1886.9 1472.7 L1889.3 1474.4 L1891.7 1476.2 L1894.0 1478.1 L1896.1 1480.3 L1898.0 1482.5 L1899.9 1484.9 L1901.6 1487.3 L1903.2 1489.8 L1904.8 1492.4 L1906.2 1495.0 L1907.6 1497.7 L1908.8 1500.4 L1910.0 1503.2 L1911.1 1506.0 L1912.1 1508.8 L1913.2 1511.6 L1914.2 1514.4 L1915.2 1517.2 L1916.3 1520.0 L1917.3 1522.8 L1918.4 1525.6 L1919.6 1528.4 L1920.8 1531.2 L1922.0 1533.9 L1923.3 1536.6 L1924.6 1539.3 L1925.9 1542.0 L1927.2 1544.7 L1928.6 1547.4 L1929.9 1550.1 L1931.2 1552.8 L1932.5 1555.5 L1933.8 1558.2 L1935.1 1560.9 L1936.3 1563.6 L1937.5 1566.4 L1938.8 1569.1 L1940.0 1571.9 L1941.2 1574.6 L1942.4 1577.4 L1943.6 1580.1 L1944.8 1582.9 L1946.0 1585.6 L1947.3 1588.3 L1948.6 1591.0 L1949.9 1593.7 L1951.2 1596.4 L1952.6 1599.1 L1954.1 1601.7 L1955.6 1604.2 L1957.2 1606.8 L1958.8 1609.3 L1960.5 1611.8 L1962.2 1614.3 L1964.0 1616.7 L1965.7 1619.1 L1967.5 1621.6 L1969.3 1623.9 L1971.2 1626.3 L1973.0 1628.7 L1974.8 1631.1 L1976.7 1633.5 L1978.5 1635.8 L1980.3 1638.2 L1982.1 1640.6 L1983.9 1643.0 L1985.7 1645.4 L1987.5 1647.8 L1989.4 1650.2 L1991.3 1652.5 L1993.2 1654.8 L1995.2 1657.0 L1997.2 1659.2 L1999.3 1661.4 L2001.5 1663.5 L2003.7 1665.5 L2005.9 1667.6 L2008.1 1669.6 L2010.3 1671.6 L2012.6 1673.6 L2014.8 1675.6 L2017.1 1677.5 L2019.4 1679.5 L2021.7 1681.4 L2024.0 1683.3 L2026.3 1685.2 L2028.7 1687.0 L2031.2 1688.7 L2033.6 1690.4 L2036.1 1692.1 L2038.7 1693.7 L2041.2 1695.3 L2043.8 1696.8 L2046.4 1698.4 L2049.0 1699.9 L2051.5 1701.4 L2054.1 1702.9 L2056.8 1704.2 L2059.6 1705.2 L2062.5 1705.9 L2065.5 1706.4 L2068.5 1706.9 L2071.4 1707.3 L2074.4 1707.9 L2077.3 1708.5 L2080.2 1709.2 L2083.1 1710.0 L2086.0 1710.8 L2088.9 1711.5 L2091.8 1712.3 L2094.7 1713.0 L2097.6 1713.7 L2100.5 1714.5 L2103.5 1715.2 L2106.4 1715.9 L2109.3 1716.6 L2112.2 1717.2 L2115.1 1717.9 L2118.1 1718.6 L2121.0 1719.3 L2123.9 1720.0 L2126.8 1720.7 L2129.7 1721.4 L2132.7 1722.1 L2135.6 1722.8 L2138.5 1723.4 L2141.5 1724.0 L2144.4 1724.5 L2147.4 1725.0 L2150.3 1725.5 L2153.3 1725.8 L2156.3 1726.1 L2159.3 1726.2 L2162.3 1726.4 L2165.3 1726.5 L2168.3 1726.7 L2171.3 1726.8 L2174.3 1727.0 L2177.3 1727.2 L2180.3 1727.4 L2183.3 1727.6 L2186.3 1727.9 L2189.2 1728.1 L2192.2 1728.4 L2195.2 1728.7 L2198.2 1729.0 L2201.2 1729.3 L2204.2 1729.6 L2207.2 1729.9 L2210.1 1730.2 L2213.1 1730.4 L2216.1 1730.7 L2219.1 1730.9 L2222.1 1731.1 L2225.1 1731.2 L2228.1 1731.4 L2231.1 1731.5 L2234.1 1731.7 L2237.1 1731.8 L2240.1 1732.0 L2243.1 1732.2 L2246.1 1732.3 L2249.1 1732.5 L2252.1 1732.6 L2253.1 1732.6 L2255.1 1732.6 L2258.1 1732.6 L2261.1 1732.6 L2264.1 1732.6 L2267.1 1732.6 L2270.1 1732.6 L2273.1 1732.6 L2276.1 1732.6 L2279.1 1732.6 L2282.1 1732.6 L2283.1 1732.6 L2285.1 1732.5 L2288.1 1732.3 L2291.1 1732.0 L2294.0 1731.6 L2297.0 1731.3 L2300.0 1731.0 L2303.0 1730.8 L2306.0 1730.7 L2309.0 1730.6 L2312.0 1730.5 L2315.0 1730.4 L2318.0 1730.4 L2321.0 1730.3 L2324.0 1730.3 L2327.0 1730.2 L2330.0 1730.2 L2333.0 1730.1 L2336.0 1730.1 L2339.0 1730.0 L2342.0 1730.0 L2345.0 1730.0 L2348.0 1729.9 L2351.0 1729.9 L2354.0 1729.8 L2357.0 1729.8 L2360.0 1729.8 L2363.0 1729.7 L2366.0 1729.7 L2369.0 1729.6 L2370.0 1729.6" stroke="#ff00ff"/>
<path d="M255.0 1712.0 L256.4 1709.4 L257.9 1706.7 L259.4 1704.1 L260.9 1701.6 L262.5 1699.0 L264.1 1696.5 L265.8 1694.0 L267.5 1691.5 L269.1 1689.0 L270.7 1686.5 L272.1 1683.9 L273.6 1681.2 L275.0 1678.6 L276.3 1675.9 L277.7 1673.2 L279.0 1670.5 L280.3 1667.8 L281.5 1665.1 L282.6 1662.3 L283.7 1659.5 L284.8 1656.7 L285.9 1653.9 L286.9 1651.1 L287.9 1648.2 L288.8 1645.4 L289.7 1642.5 L290.6 1639.7 L291.4 1636.8 L292.2 1633.9 L292.9 1631.0 L293.6 1628.1 L294.3 1625.1 L295.0 1622.2 L295.7 1619.3 L296.3 1616.4 L297.0 1613.4 L297.6 1610.5 L298.2 1607.6 L298.9 1604.6 L299.5 1601.7 L300.2 1598.8 L300.9 1595.9 L301.6 1592.9 L302.3 1590.0 L303.0 1587.1 L303.7 1584.2 L304.4 1581.3 L305.1 1578.4 L305.8 1575.5 L306.5 1572.5 L307.2 1569.6 L307.9 1566.7 L308.6 1563.8 L309.2 1560.8 L309.9 1557.9 L310.5 1555.0 L311.1 1552.1 L311.8 1549.1 L312.4 1546.2 L313.0 1543.2 L313.6 1540.3 L314.2 1537.4 L314.8 1534.4 L315.4 1531.5 L316.0 1528.5 L316.6 1525.6 L317.1 1522.7 L317.7 1519.7 L318.2 1516.7 L318.7 1513.8 L319.2 1510.8 L319.7 1507.9 L320.2 1504.9 L320.6 1501.9 L321.1 1499.0 L321.5 1496.0 L321.9 1493.0 L322.3 1490.1 L322.7 1487.1 L323.1 1484.1 L323.4 1481.1 L323.8 1478.2 L324.1 1475.2 L324.4 1472.2 L324.8 1469.2 L325.0 1466.2 L325.3 1463.2 L325.6 1460.3 L325.9 1457.3 L326.2 1454.3 L326.4 1451.3 L326.7 1448.3 L327.0 1445.3 L327.2 1442.3 L327.5 1439.3 L327.7 1436.3 L328.0 1433.4 L328.2 1430.4 L328.5 1427.4 L328.7 1424.4 L329.0 1421.4 L329.2 1418.4 L329.5 1415.4 L329.8 1412.4 L330.0 1409.4 L330.3 1406.4 L330.5 1403.5 L330.8 1400.5 L331.0 1397.5 L331.3 1394.5 L331.5 1391.5 L331.8 1388.5 L332.0 1385.5 L332.3 1382.5 L332.6 1379.5 L332.8 1376.6 L333.1 1373.6 L333.3 1370.6 L333.6 1367.6 L333.8 1364.6 L334.0 1361.6 L334.3 1358.6 L334.5 1355.6 L334.8 1352.6 L335.0 1349.6 L335.2 1346.7 L335.5 1343.7 L335.7 1340.7 L336.0 1337.7 L336.2 1334.7 L336.4 1331.7 L336.7 1328.7 L336.9 1325.7 L337.2 1322.7 L337.4 1319.7 L337.6 1316.7 L337.9 1313.8 L338.1 1310.8 L338.4 1307.8 L338.6 1304.8 L338.9 1301.8 L339.1 1298.8 L339.4 1295.8 L339.6 1292.8 L339.9 1289.8 L340.1 1286.8 L340.4 1283.9 L340.7 1280.9 L340.9 1277.9 L341.2 1274.9 L341.5 1271.9 L341.7 1268.9 L342.0 1265.9 L342.3 1262.9 L342.5 1260.0 L342.8 1257.0 L343.1 1254.0 L343.3 1251.0 L343.6 1248.0 L343.9 1245.0 L344.1 1242.0 L344.4 1239.0 L344.6 1236.0 L344.9 1233.1 L345.1 1230.1 L345.4 1227.1 L345.6 1224.1 L345.9 1221.1 L346.1 1218.1 L346.3 1215.1 L346.6 1212.1 L346.8 1209.1 L347.0 1206.1 L347.2 1203.1 L347.4 1200.2 L347.7 1197.2 L347.9 1194.2 L348.1 1191.2 L348.3 1188.2 L348.4 1185.2 L348.6 1182.2 L348.8 1179.2 L349.0 1176.2 L349.2 1173.2 L349.4 1170.2 L349.6 1167.2 L349.7 1164.2 L349.9 1161.2 L350.1 1158.2 L350.3 1155.2 L350.4 1152.2 L350.6 1149.2 L350.8 1146.3 L351.0 1143.3 L351.1 1140.3 L351.3 1137.3 L351.5 1134.3 L351.6 1131.3 L351.8 1128.3 L352.0 1125.3 L352.1 1122.3 L352.3 1119.3 L352.4 1116.3 L352.6 1113.3 L352.8 1110.3 L352.9 1107.3 L353.1 1104.3 L353.3 1101.3 L353.4 1098.3 L353.6 1095.3 L353.7 1092.3 L353.9 1089.3 L354.1 1086.3 L354.2 1083.3 L354.4 1080.3 L354.5 1077.4 L354.7 1074.4 L354.9 1071.4 L355.0 1068.4 L355.2 1065.4 L355.4 1062.4 L355.5 1059.4 L355.7 1056.4 L355.8 1053.4 L356.0 1050.4 L356.2 1047.4 L356.3 1044.4 L356.5 1041.4 L356.7 1038.4 L356.8 1035.4 L357.0 1032.4 L357.2 1029.4 L357.4 1026.4 L357.5 1023.4 L357.7 1020.4 L357.9 1017.4 L358.1 1014.4 L358.2 1011.5 L358.4 1008.5 L358.6 1005.5 L358.8 1002.5 L359.0 999.5 L359.2 996.5 L359.3 993.5 L359.5 990.5 L359.7 987.5 L359.9 984.5 L360.1 981.5 L360.3 978.5 L360.5 975.5 L360.7 972.5 L360.8 969.5 L361.0 966.5 L361.2 963.5 L361.4 960.5 L361.6 957.6 L361.8 954.6 L362.0 951.6 L362.2 948.6 L362.4 945.6 L362.5 942.6 L362.7 939.6 L362.9 936.6 L363.1 933.6 L363.3 930.6 L363.5 927.6 L363.7 924.6 L363.9 921.6 L364.1 918.6 L364.3 915.6 L364.5 912.6 L364.7 909.6 L364.8 906.7 L365.0 903.7 L365.2 900.7 L365.4 897.7 L365.6 894.7 L365.8 891.7 L366.0 888.7 L366.2 885.7 L366.4 882.7 L366.6 879.7 L366.8 876.7 L367.0 873.7 L367.2 870.7 L367.4 867.7 L367.7 864.7 L367.9 861.8 L368.1 858.8 L368.3 855.8 L368.5 852.8 L368.7 849.8 L368.9 846.8 L369.1 843.8 L369.4 840.8 L369.6 837.8 L369.8 834.8 L370.0 831.8 L370.3 828.8 L370.5 825.8 L370.7 822.9 L370.9 819.9 L371.2 816.9 L371.4 813.9 L371.7 810.9 L371.9 807.9 L372.1 804.9 L372.4 801.9 L372.7 798.9 L372.9 795.9 L373.2 793.0 L373.5 790.0 L373.8 787.0 L374.0 784.0 L374.3 781.0 L374.7 778.0 L375.0 775.0 L375.3 772.1 L375.6 769.1 L375.9 766.1 L376.2 763.1 L376.6 760.1 L376.9 757.1 L377.2 754.2 L377.5 751.2 L377.8 748.2 L378.1 745.2 L378.4 742.2 L378.7 739.2 L378.9 736.2 L379.2 733.3 L379.5 730.3 L379.7 727.3 L380.0 724.3 L380.2 721.3 L380.5 718.3 L380.7 715.3 L381.0 712.3 L381.2 709.3 L381.5 706.4 L381.7 703.4 L382.0 700.4 L382.2 697.4 L382.5 694.4 L382.7 691.4 L383.0 688.4 L383.2 685.4 L383.5 682.4 L383.7 679.4 L383.9 676.5 L384.2 673.5 L384.4 670.5 L384.7 667.5 L384.9 664.5 L385.1 661.5 L385.4 658.5 L385.6 655.5 L385.8 652.5 L386.1 649.5 L386.3 646.5 L386.5 643.6 L386.7 640.6 L387.0 637.6 L387.2 634.6 L387.4 631.6 L387.6 628.6 L387.8 625.6 L388.1 622.6 L388.3 619.6 L388.5 616.6 L388.8 613.6 L389.0 610.6 L389.3 607.7 L389.6 604.7 L389.9 601.7 L390.2 598.7 L390.5 595.7 L390.8 592.7 L391.3 589.8 L391.9 586.8 L392.5 583.9 L393.2 581.0 L393.8 578.0 L394.4 575.1 L395.1 572.2 L395.7 569.2 L396.4 566.3 L397.0 563.4 L397.6 560.4 L398.3 557.5 L398.9 554.6 L399.5 551.7 L400.2 548.7 L400.8 545.8 L401.5 543.0 L401.9 542.2 L403.9 542.6 L406.9 543.0 L409.8 543.5 L410.8 543.6 L411.6 545.3 L412.5 548.1 L413.3 551.0 L414.1 553.8 L414.8 556.7 L415.6 559.6 L416.4 562.5 L417.2 565.4 L418.0 568.3 L418.8 571.2 L419.5 574.1 L420.3 577.0 L421.1 579.9 L421.9 582.8 L422.7 585.7 L423.2 587.6 L423.4 588.6 L424.0 591.6 L424.5 594.5 L425.0 597.5 L425.5 600.4 L426.0 603.4 L426.4 606.4 L426.9 609.3 L427.3 612.3 L427.7 615.3 L428.1 618.2 L428.5 621.2 L428.9 624.2 L429.3 627.2 L429.6 630.1 L430.0 633.1 L430.4 636.1 L430.7 639.1 L431.0 642.1 L431.4 645.0 L431.7 648.0 L432.1 651.0 L432.4 654.0 L432.7 657.0 L433.0 659.9 L433.3 662.9 L433.6 665.9 L433.9 668.9 L434.2 671.9 L434.5 674.9 L434.7 677.9 L435.0 680.9 L435.2 683.8 L435.5 686.8 L435.7 689.8 L435.9 692.8 L436.2 695.8 L436.4 698.8 L436.6 701.8 L436.8 704.8 L437.0 707.8 L437.2 710.8 L437.4 713.8 L437.6 716.8 L437.8 719.7 L438.1 722.7 L438.3 725.7 L438.5 728.7 L438.7 731.7 L438.9 734.7 L439.2 737.7 L439.4 740.7 L439.6 743.7 L439.9 746.7 L440.1 749.7 L440.4 752.7 L440.6 755.6 L440.9 758.6 L441.1 761.6 L441.4 764.6 L441.7 767.6 L441.9 770.6 L442.2 773.6 L442.4 776.6 L442.7 779.6 L443.0 782.5 L443.2 785.5 L443.5 788.5 L443.7 791.5 L444.0 794.5 L444.2 797.5 L444.4 800.5 L444.7 803.5 L444.9 806.5 L445.2 809.5 L445.4 812.4 L445.7 815.4 L445.9 818.4 L446.1 821.4 L446.4 824.4 L446.6 827.4 L446.9 830.4 L447.1 833.4 L447.3 836.4 L447.6 839.4 L447.8 842.3 L448.1 845.3 L448.3 848.3 L448.5 851.3 L448.8 854.3 L449.0 857.3 L449.3 860.3 L449.5 863.3 L449.7 866.3 L450.0 869.3 L450.2 872.3 L450.4 875.2 L450.7 878.2 L450.9 881.2 L451.1 884.2 L451.4 887.2 L451.6 890.2 L451.8 893.2 L452.0 896.2 L452.3 899.2 L452.5 902.2 L452.7 905.2 L453.0 908.2 L453.2 911.1 L453.4 914.1 L453.6 917.1 L453.9 920.1 L454.1 923.1 L454.3 926.1 L454.5 929.1 L454.7 932.1 L455.0 935.1 L455.2 938.1 L455.4 941.1 L455.6 944.1 L455.8 947.0 L456.0 950.0 L456.3 953.0 L456.5 956.0 L456.7 959.0 L456.9 962.0 L457.1 965.0 L457.3 968.0 L457.5 971.0 L457.7 974.0 L457.9 977.0 L458.1 980.0 L458.3 983.0 L458.5 986.0 L458.7 988.9 L458.9 991.9 L459.1 994.9 L459.3 997.9 L459.5 1000.9 L459.7 1003.9 L459.9 1006.9 L460.1 1009.9 L460.3 1012.9 L460.5 1015.9 L460.7 1018.9 L460.9 1021.9 L461.0 1024.9 L461.2 1027.9 L461.4 1030.9 L461.6 1033.9 L461.7 1036.9 L461.9 1039.9 L462.1 1042.8 L462.3 1045.8 L462.4 1048.8 L462.6 1051.8 L462.8 1054.8 L462.9 1057.8 L463.1 1060.8 L463.3 1063.8 L463.4 1066.8 L463.6 1069.8 L463.8 1072.8 L463.9 1075.8 L464.1 1078.8 L464.2 1081.8 L464.4 1084.8 L464.6 1087.8 L464.7 1090.8 L464.9 1093.8 L465.1 1096.8 L465.2 1099.8 L465.4 1102.8 L465.6 1105.8 L465.7 1108.8 L465.9 1111.7 L466.0 1114.7 L466.2 1117.7 L466.4 1120.7 L466.5 1123.7 L466.7 1126.7 L466.9 1129.7 L467.0 1132.7 L467.2 1135.7 L467.4 1138.7 L467.5 1141.7 L467.7 1144.7 L467.9 1147.7 L468.0 1150.7 L468.2 1153.7 L468.4 1156.7 L468.6 1159.7 L468.7 1162.7 L468.9 1165.7 L469.1 1168.7 L469.3 1171.7 L469.4 1174.6 L469.6 1177.6 L469.8 1180.6 L470.0 1183.6 L470.2 1186.6 L470.4 1189.6 L470.6 1192.6 L470.8 1195.6 L471.0 1198.6 L471.2 1201.6 L471.4 1204.6 L471.6 1207.6 L471.8 1210.6 L472.0 1213.6 L472.2 1216.6 L472.4 1219.6 L472.6 1222.5 L472.9 1225.5 L473.1 1228.5 L473.3 1231.5 L473.5 1234.5 L473.7 1237.5 L474.0 1240.5 L474.2 1243.5 L474.4 1246.5 L474.6 1249.5 L474.9 1252.5 L475.1 1255.5 L475.3 1258.4 L475.6 1261.4 L475.8 1264.4 L476.1 1267.4 L476.3 1270.4 L476.6 1273.4 L476.8 1276.4 L477.1 1279.4 L477.3 1282.4 L477.6 1285.4 L477.9 1288.3 L478.1 1291.3 L478.4 1294.3 L478.7 1297.3 L478.9 1300.3 L479.2 1303.3 L479.5 1306.3 L479.8 1309.3 L480.1 1312.2 L480.4 1315.2 L480.7 1318.2 L481.0 1321.2 L481.3 1324.2 L481.6 1327.2 L481.9 1330.1 L482.2 1333.1 L482.5 1336.1 L482.9 1339.1 L483.2 1342.1 L483.5 1345.1 L483.8 1348.0 L484.2 1351.0 L484.5 1354.0 L484.8 1357.0 L485.2 1360.0 L485.5 1363.0 L485.8 1365.9 L486.2 1368.9 L486.5 1371.9 L486.9 1374.9 L487.2 1377.9 L487.6 1380.8 L488.0 1383.8 L488.3 1386.8 L488.7 1389.8 L489.1 1392.7 L489.5 1395.7 L489.8 1398.7 L490.2 1401.7 L490.6 1404.6 L491.0 1407.6 L491.3 1410.6 L491.7 1413.6 L492.1 1416.5 L492.5 1419.5 L492.9 1422.5 L493.3 1425.5 L493.7 1428.4 L494.1 1431.4 L494.5 1434.4 L495.0 1437.4 L495.4 1440.3 L495.9 1443.3 L496.4 1446.2 L496.8 1449.2 L497.3 1452.2 L497.9 1455.1 L498.4 1458.1 L498.9 1461.0 L499.5 1464.0 L500.1 1466.9 L500.6 1469.9 L501.2 1472.8 L501.8 1475.7 L502.5 1478.7 L503.1 1481.6 L503.7 1484.5 L504.4 1487.5 L505.0 1490.4 L505.7 1493.3 L506.4 1496.3 L507.0 1499.2 L507.7 1502.1 L508.4 1505.0 L509.1 1507.9 L509.8 1510.8 L510.6 1513.7 L511.3 1516.7 L512.1 1519.6 L512.8 1522.5 L513.6 1525.4 L514.4 1528.2 L515.2 1531.1 L516.1 1534.0 L516.9 1536.9 L517.8 1539.8 L518.7 1542.6 L519.6 1545.5 L520.5 1548.3 L521.4 1551.2 L522.4 1554.1 L523.3 1556.9 L524.3 1559.7 L525.3 1562.6 L526.3 1565.4 L527.4 1568.2 L528.5 1571.0 L529.6 1573.8 L530.7 1576.5 L531.9 1579.3 L533.1 1582.0 L534.4 1584.8 L535.7 1587.5 L537.1 1590.1 L538.5 1592.8 L540.0 1595.4 L541.5 1598.0 L543.1 1600.5 L544.7 1603.0 L546.4 1605.5 L548.2 1607.9 L550.0 1610.3 L552.0 1612.6 L554.1 1614.7 L556.3 1616.7 L558.6 1618.7 L560.9 1620.6 L563.2 1622.5 L565.4 1624.5 L567.7 1626.5 L569.9 1628.5 L572.0 1630.6 L574.2 1632.7 L576.3 1634.8 L578.5 1636.9 L580.6 1638.9 L582.8 1641.1 L584.9 1643.2 L587.0 1645.3 L589.2 1647.4 L591.3 1649.5 L593.4 1651.6 L595.6 1653.7 L597.8 1655.8 L599.9 1657.8 L602.1 1659.9 L604.2 1662.0 L606.4 1664.1 L608.5 1666.2 L610.7 1668.3 L612.8 1670.4 L615.0 1672.4 L617.3 1674.4 L619.6 1676.4 L621.9 1678.3 L624.3 1680.1 L626.7 1681.8 L629.2 1683.5 L631.8 1685.0 L634.5 1686.3 L637.2 1687.6 L640.0 1688.7 L642.8 1689.8 L645.6 1690.9 L648.3 1692.0 L651.1 1693.2 L653.8 1694.5 L656.4 1695.9 L659.1 1697.4 L661.7 1698.8 L664.4 1700.1 L667.2 1701.3 L670.0 1702.1 L672.9 1702.8 L675.9 1703.4 L678.8 1703.9 L681.8 1704.4 L684.8 1704.8 L687.7 1705.2 L690.7 1705.6 L693.7 1706.1 L696.6 1706.5 L699.6 1706.8 L702.6 1707.2 L705.6 1707.6 L708.5 1708.0 L711.5 1708.3 L714.5 1708.7 L717.5 1709.2 L720.4 1709.7 L723.4 1710.3 L726.3 1710.9 L729.2 1711.5 L732.2 1712.0 L735.2 1712.3 L737.2 1712.5 L738.2 1712.5 L741.2 1712.3 L744.1 1712.1 L747.1 1711.9 L750.1 1711.5 L753.1 1711.2 L756.1 1710.8 L759.1 1710.5 L762.0 1710.2 L765.0 1710.1 L767.0 1710.0 L768.0 1710.0 L771.0 1710.2 L774.0 1710.5 L777.0 1710.8 L780.0 1711.2 L782.9 1711.6 L785.9 1712.0 L788.9 1712.3 L791.9 1712.5 L794.9 1712.6 L797.9 1712.7 L800.9 1712.7 L803.9 1712.8 L806.9 1712.9 L809.9 1712.9 L812.9 1713.0 L815.9 1713.0 L818.9 1713.0 L819.9 1713.0 L821.9 1713.0 L824.9 1713.0 L827.9 1713.0 L830.9 1713.0 L833.9 1713.0 L836.9 1712.9 L839.9 1712.9 L842.9 1712.9 L845.9 1712.8 L848.9 1712.7 L851.9 1712.6 L854.9 1712.4 L857.9 1712.1 L860.8 1711.8 L863.8 1711.3 L866.8 1710.8 L869.7 1710.2 L872.6 1709.6 L875.6 1709.0 L878.5 1708.4 L881.5 1707.8 L884.4 1707.2 L887.3 1706.6 L890.3 1705.9 L893.2 1705.3 L896.1 1704.6 L899.0 1703.9 L901.9 1703.2 L904.9 1702.5 L907.8 1701.8 L910.7 1701.2 L913.6 1700.6 L916.6 1700.0 L919.5 1699.3 L922.5 1698.7 L925.4 1698.1 L928.3 1697.6 L931.3 1697.1 L934.3 1696.7 L937.3 1696.4 L940.2 1696.2 L943.2 1696.1 L946.2 1696.1 L949.2 1696.0 L952.2 1696.0 L955.2 1695.9 L958.2 1695.9 L961.2 1695.9 L964.2 1695.9 L967.2 1696.0 L970.2 1696.1 L973.2 1696.3 L976.2 1696.4 L979.2 1696.5 L982.2 1696.3 L985.2 1696.1 L988.2 1695.7 L991.2 1695.3 L994.1 1694.8 L997.1 1694.2 L1000.0 1693.6 L1002.9 1693.0 L1005.9 1692.4 L1008.8 1691.8 L1011.7 1691.1 L1014.6 1690.4 L1017.5 1689.6 L1020.4 1688.8 L1023.3 1687.9 L1026.2 1687.1 L1029.0 1686.2 L1031.9 1685.4 L1034.8 1684.5 L1037.7 1683.6 L1040.5 1682.7 L1043.3 1681.7 L1046.1 1680.5 L1048.8 1679.2 L1051.4 1677.8 L1054.0 1676.2 L1056.5 1674.6 L1058.9 1672.8 L1061.3 1671.0 L1063.6 1669.1 L1065.8 1667.0 L1067.9 1664.9 L1070.0 1662.7 L1072.0 1660.5 L1073.9 1658.2 L1075.8 1655.9 L1077.7 1653.6 L1079.6 1651.2 L1081.4 1648.8 L1083.1 1646.4 L1084.9 1643.9 L1086.6 1641.5 L1088.2 1639.0 L1089.9 1636.5 L1091.6 1634.0 L1093.3 1631.5 L1095.0 1629.1 L1096.8 1626.6 L1098.5 1624.2 L1100.3 1621.8 L1102.1 1619.4 L1103.9 1616.9 L1105.7 1614.6 L1107.5 1612.2 L1109.4 1609.9 L1111.3 1607.6 L1113.3 1605.3 L1115.3 1603.0 L1117.3 1600.8 L1119.3 1598.6 L1121.5 1596.5 L1123.7 1594.6 L1126.1 1592.8 L1128.6 1591.1 L1131.2 1589.6 L1133.8 1588.2 L1136.5 1586.9 L1139.3 1585.9 L1142.2 1585.0 L1145.1 1584.4 L1148.1 1583.9 L1151.1 1583.6 L1153.1 1583.4 L1154.1 1583.5 L1157.0 1584.1 L1159.9 1584.9 L1162.7 1586.0 L1165.4 1587.2 L1168.0 1588.6 L1170.5 1590.2 L1172.9 1592.1 L1175.1 1594.1 L1177.2 1596.2 L1179.4 1598.3 L1181.5 1600.4 L1183.7 1602.4 L1185.9 1604.5 L1188.1 1606.6 L1190.2 1608.6 L1192.4 1610.7 L1194.5 1612.8 L1196.6 1615.0 L1198.7 1617.2 L1200.7 1619.4 L1202.7 1621.6 L1204.6 1623.9 L1206.5 1626.2 L1208.4 1628.5 L1210.3 1630.9 L1212.2 1633.2 L1214.2 1635.5 L1216.1 1637.7 L1218.1 1640.0 L1220.1 1642.2 L1222.2 1644.4 L1224.2 1646.6 L1226.2 1648.8 L1228.3 1651.0 L1230.4 1653.1 L1232.6 1655.2 L1234.7 1657.3 L1236.9 1659.4 L1239.1 1661.4 L1241.3 1663.4 L1243.6 1665.4 L1245.9 1667.3 L1248.3 1669.1 L1250.7 1670.9 L1253.2 1672.6 L1255.7 1674.2 L1258.3 1675.8 L1260.9 1677.3 L1263.5 1678.7 L1266.2 1680.1 L1268.9 1681.4 L1271.6 1682.7 L1274.3 1683.8 L1277.1 1684.9 L1280.0 1685.8 L1282.9 1686.6 L1285.8 1687.2 L1288.8 1687.8 L1291.7 1688.3 L1294.7 1688.7 L1297.6 1689.2 L1300.6 1689.6 L1303.6 1690.1 L1306.5 1690.6 L1309.5 1691.1 L1312.5 1691.5 L1315.4 1691.9 L1318.4 1692.1 L1320.4 1692.2 L1321.4 1692.2 L1324.4 1692.1 L1327.4 1692.0 L1330.4 1691.9 L1333.4 1691.7 L1336.4 1691.5 L1339.4 1691.3 L1342.4 1691.0 L1345.4 1690.8 L1348.4 1690.5 L1351.3 1690.2 L1354.3 1689.8 L1357.3 1689.4 L1360.3 1689.0 L1363.2 1688.6 L1366.2 1688.1 L1369.2 1687.7 L1372.1 1687.3 L1375.1 1686.8 L1378.1 1686.3 L1381.0 1685.8 L1384.0 1685.1 L1386.9 1684.5 L1389.8 1683.7 L1392.6 1682.9 L1395.5 1681.9 L1398.3 1680.8 L1401.0 1679.6 L1403.6 1678.1 L1406.1 1676.5 L1408.5 1674.7 L1410.8 1672.8 L1413.1 1670.8 L1415.4 1668.8 L1417.6 1666.8 L1419.8 1664.8 L1421.9 1662.7 L1424.0 1660.5 L1426.0 1658.3 L1427.9 1656.0 L1429.9 1653.7 L1431.8 1651.4 L1433.6 1649.0 L1435.5 1646.7 L1437.3 1644.3 L1439.1 1641.9 L1440.9 1639.5 L1442.6 1637.0 L1444.3 1634.6 L1446.0 1632.1 L1447.7 1629.6 L1449.3 1627.1 L1451.0 1624.6 L1452.7 1622.1 L1454.4 1619.6 L1456.1 1617.2 L1457.8 1614.7 L1459.5 1612.2 L1461.2 1609.8 L1462.9 1607.3 L1464.7 1604.9 L1466.4 1602.4 L1468.2 1600.0 L1470.0 1597.6 L1471.8 1595.2 L1473.8 1592.9 L1475.7 1590.7 L1477.8 1588.5 L1479.8 1586.3 L1481.9 1584.2 L1484.1 1582.1 L1486.3 1580.0 L1488.5 1578.1 L1490.9 1576.2 L1493.4 1574.5 L1495.9 1572.9 L1498.5 1571.3 L1501.1 1569.9 L1503.8 1568.6 L1506.6 1567.6 L1509.5 1566.9 L1512.4 1567.1 L1515.4 1567.6 L1518.3 1568.2 L1521.2 1569.0 L1524.0 1570.0 L1526.8 1571.1 L1529.6 1572.3 L1532.2 1573.6 L1534.8 1575.2 L1537.1 1577.1 L1539.2 1579.2 L1541.2 1581.4 L1543.1 1583.7 L1545.0 1586.1 L1546.8 1588.5 L1548.7 1590.8 L1550.6 1593.1 L1552.5 1595.4 L1554.4 1597.7 L1556.4 1600.0 L1558.3 1602.3 L1560.2 1604.6 L1562.1 1606.9 L1564.0 1609.3 L1565.9 1611.6 L1567.8 1613.9 L1569.7 1616.2 L1571.6 1618.5 L1573.5 1620.9 L1575.4 1623.2 L1577.2 1625.6 L1579.1 1627.9 L1580.9 1630.3 L1582.8 1632.6 L1584.8 1634.9 L1586.8 1637.1 L1588.9 1639.3 L1591.0 1641.4 L1593.3 1643.4 L1595.5 1645.3 L1597.9 1647.2 L1600.2 1649.0 L1602.7 1650.8 L1605.2 1652.5 L1607.7 1654.0 L1610.3 1655.5 L1613.0 1657.0 L1615.6 1658.3 L1618.3 1659.6 L1621.1 1660.8 L1623.8 1662.0 L1626.7 1663.0 L1629.5 1663.8 L1632.4 1664.6 L1635.3 1665.4 L1638.3 1666.0 L1641.2 1666.6 L1644.2 1667.2 L1647.1 1667.7 L1650.1 1668.1 L1653.0 1668.5 L1656.0 1669.0 L1659.0 1669.4 L1662.0 1669.7 L1665.0 1670.1 L1667.9 1670.3 L1670.9 1670.5 L1673.9 1670.6 L1675.9 1670.7 L1676.9 1670.7 L1679.9 1670.7 L1682.9 1670.6 L1685.9 1670.5 L1688.9 1670.4 L1691.9 1670.3 L1694.9 1670.2 L1697.9 1670.0 L1700.9 1669.8 L1703.9 1669.6 L1706.9 1669.3 L1709.9 1669.0 L1712.8 1668.5 L1715.8 1667.9 L1718.6 1667.1 L1721.5 1666.1 L1724.2 1664.9 L1726.8 1663.5 L1729.5 1662.0 L1732.0 1660.5 L1734.6 1659.0 L1737.2 1657.4 L1739.7 1655.8 L1742.2 1654.2 L1744.7 1652.5 L1747.1 1650.7 L1749.5 1648.9 L1751.8 1646.9 L1753.9 1644.8 L1756.0 1642.7 L1758.0 1640.4 L1759.9 1638.1 L1761.7 1635.7 L1763.5 1633.3 L1765.3 1630.9 L1767.1 1628.5 L1768.8 1626.1 L1770.5 1623.6 L1772.2 1621.1 L1773.9 1618.7 L1775.6 1616.2 L1777.2 1613.6 L1778.8 1611.1 L1780.4 1608.5 L1781.9 1605.9 L1783.3 1603.3 L1784.7 1600.7 L1786.0 1598.0 L1787.3 1595.3 L1788.5 1592.5 L1789.6 1589.7 L1790.7 1587.0 L1791.8 1584.1 L1792.8 1581.3 L1793.8 1578.5 L1794.8 1575.7 L1795.8 1572.8 L1796.7 1570.0 L1797.6 1567.1 L1798.6 1564.3 L1799.5 1561.4 L1800.4 1558.6 L1801.4 1555.7 L1802.3 1552.9 L1803.3 1550.0 L1804.2 1547.2 L1805.1 1544.3 L1806.0 1541.4 L1807.0 1538.6 L1807.9 1535.7 L1808.8 1532.9 L1809.7 1530.0 L1810.6 1527.2 L1811.5 1524.3 L1812.4 1521.4 L1813.3 1518.6 L1814.2 1515.7 L1815.1 1512.8 L1816.0 1510.0 L1816.9 1507.1 L1817.8 1504.3 L1818.7 1501.4 L1819.6 1498.5 L1820.5 1495.7 L1821.4 1492.8 L1822.3 1489.9 L1823.2 1487.1 L1824.1 1484.2 L1825.0 1481.4 L1825.9 1478.5 L1826.9 1475.7 L1827.8 1472.8 L1828.7 1470.0 L1829.7 1467.1 L1830.6 1464.3 L1831.6 1461.4 L1832.6 1458.6 L1833.6 1455.8 L1834.5 1452.9 L1835.5 1450.1 L1836.6 1447.3 L1837.6 1444.4 L1838.6 1441.6 L1839.6 1438.8 L1840.7 1436.0 L1841.8 1433.2 L1842.9 1430.4 L1843.9 1427.6 L1845.0 1424.8 L1846.1 1422.0 L1847.3 1419.2 L1848.4 1416.4 L1849.6 1413.7 L1850.8 1410.9 L1852.1 1408.2 L1853.4 1405.5 L1854.8 1402.8 L1856.2 1400.2 L1857.7 1397.7 L1859.4 1395.2 L1861.3 1392.9 L1863.3 1390.7 L1865.5 1388.6 L1867.9 1386.9 L1870.5 1385.6 L1872.3 1385.0 L1873.3 1385.2 L1876.3 1385.7 L1879.2 1386.4 L1881.9 1387.5 L1884.6 1388.9 L1887.0 1390.7 L1889.1 1392.7 L1891.1 1394.9 L1892.8 1397.3 L1894.2 1399.9 L1895.5 1402.5 L1896.8 1405.2 L1898.0 1408.0 L1899.2 1410.7 L1900.4 1413.5 L1901.5 1416.4 L1902.5 1419.2 L1903.6 1422.1 L1904.6 1424.9 L1905.6 1427.7 L1906.7 1430.5 L1907.7 1433.4 L1908.7 1436.2 L1909.7 1439.0 L1910.6 1441.9 L1911.6 1444.7 L1912.5 1447.6 L1913.4 1450.4 L1914.3 1453.3 L1915.2 1456.2 L1916.0 1459.0 L1916.9 1461.9 L1917.7 1464.8 L1918.6 1467.7 L1919.4 1470.5 L1920.3 1473.4 L1921.1 1476.3 L1922.0 1479.2 L1922.8 1482.1 L1923.7 1484.9 L1924.6 1487.8 L1925.5 1490.7 L1926.4 1493.5 L1927.3 1496.4 L1928.3 1499.2 L1929.3 1502.0 L1930.3 1504.8 L1931.4 1507.6 L1932.4 1510.4 L1933.5 1513.2 L1934.7 1516.0 L1935.8 1518.8 L1937.0 1521.6 L1938.1 1524.3 L1939.3 1527.1 L1940.4 1529.9 L1941.6 1532.6 L1942.7 1535.4 L1943.9 1538.2 L1945.0 1541.0 L1946.2 1543.7 L1947.3 1546.5 L1948.4 1549.3 L1949.6 1552.0 L1950.8 1554.8 L1951.9 1557.6 L1953.1 1560.4 L1954.2 1563.1 L1955.4 1565.9 L1956.6 1568.6 L1957.8 1571.4 L1959.0 1574.1 L1960.2 1576.9 L1961.4 1579.6 L1962.6 1582.4 L1963.8 1585.1 L1965.1 1587.9 L1966.3 1590.6 L1967.6 1593.3 L1968.9 1596.0 L1970.2 1598.7 L1971.5 1601.4 L1972.9 1604.1 L1974.3 1606.7 L1975.7 1609.4 L1977.1 1612.0 L1978.5 1614.7 L1979.9 1617.3 L1981.3 1620.0 L1982.8 1622.6 L1984.3 1625.2 L1985.8 1627.8 L1987.4 1630.3 L1989.0 1632.8 L1990.7 1635.3 L1992.5 1637.7 L1994.3 1640.1 L1996.2 1642.4 L1998.2 1644.7 L2000.3 1646.8 L2002.5 1648.9 L2004.7 1650.9 L2006.9 1652.9 L2009.2 1654.9 L2011.4 1656.9 L2013.6 1658.9 L2015.8 1660.9 L2018.0 1663.0 L2020.2 1665.1 L2022.4 1667.1 L2024.6 1669.2 L2026.8 1671.1 L2029.1 1673.1 L2031.4 1675.0 L2033.7 1676.9 L2036.1 1678.7 L2038.5 1680.5 L2040.9 1682.3 L2043.4 1684.1 L2045.8 1685.8 L2048.2 1687.5 L2050.7 1689.3 L2053.2 1691.0 L2055.7 1692.5 L2058.4 1693.9 L2061.1 1695.2 L2063.8 1696.4 L2066.6 1697.6 L2069.4 1698.6 L2072.2 1699.6 L2075.1 1700.5 L2078.0 1701.3 L2080.9 1702.1 L2083.8 1702.8 L2086.7 1703.5 L2089.6 1704.3 L2092.5 1705.2 L2095.4 1706.0 L2098.2 1706.9 L2101.1 1707.7 L2104.0 1708.6 L2106.9 1709.5 L2109.7 1710.3 L2112.6 1711.2 L2115.5 1712.0 L2118.4 1712.9 L2121.2 1713.8 L2124.1 1714.6 L2127.0 1715.5 L2129.8 1716.4 L2132.7 1717.3 L2135.6 1718.2 L2138.5 1719.0 L2141.3 1719.8 L2144.2 1720.6 L2147.1 1721.3 L2150.1 1722.0 L2153.0 1722.7 L2155.9 1723.2 L2158.9 1723.8 L2161.9 1724.2 L2164.8 1724.6 L2167.8 1725.0 L2170.8 1725.4 L2173.7 1725.8 L2176.7 1726.2 L2179.7 1726.6 L2182.7 1727.0 L2185.6 1727.4 L2188.6 1727.9 L2191.6 1728.4 L2194.5 1729.0 L2197.4 1729.6 L2200.4 1730.1 L2203.3 1730.7 L2206.3 1731.1 L2209.3 1731.6 L2212.2 1732.0 L2215.2 1732.4 L2218.2 1732.7 L2221.2 1732.9 L2224.2 1733.1 L2227.2 1733.3 L2230.2 1733.5 L2233.2 1733.6 L2236.2 1733.7 L2239.2 1733.7 L2242.2 1733.8 L2245.2 1733.8 L2248.2 1733.9 L2251.2 1733.9 L2254.2 1734.0 L2257.2 1734.0 L2260.2 1734.0 L2261.2 1734.0 L2263.2 1734.0 L2266.2 1733.9 L2269.2 1733.8 L2272.2 1733.7 L2275.2 1733.6 L2278.2 1733.4 L2281.2 1733.3 L2284.1 1733.1 L2287.1 1732.9 L2290.1 1732.7 L2293.1 1732.4 L2296.1 1732.1 L2299.1 1731.7 L2302.1 1731.4 L2305.0 1731.1 L2308.0 1730.7 L2311.0 1730.5 L2314.0 1730.2 L2317.0 1730.1 L2320.0 1730.0 L2323.0 1729.9 L2326.0 1729.9 L2329.0 1729.9 L2332.0 1729.8 L2335.0 1729.8 L2338.0 1729.8 L2341.0 1729.8 L2344.0 1729.8 L2347.0 1729.7 L2350.0 1729.7 L2353.0 1729.7 L2356.0 1729.7 L2359.0 1729.7 L2362.0 1729.7 L2365.0 1729.6 L2368.0 1729.6 L2370.0 1729.6" stroke="#0000ff"/>
<path d="M255.0 1702.0 L256.2 1699.3 L257.4 1696.5 L258.7 1693.8 L259.9 1691.0 L261.1 1688.3 L262.3 1685.6 L263.5 1682.8 L264.7 1680.0 L265.9 1677.3 L267.0 1674.5 L268.1 1671.7 L269.3 1669.0 L270.4 1666.2 L271.5 1663.4 L272.5 1660.6 L273.6 1657.8 L274.6 1654.9 L275.6 1652.1 L276.6 1649.3 L277.6 1646.4 L278.5 1643.6 L279.4 1640.7 L280.2 1637.8 L281.0 1635.0 L281.8 1632.1 L282.6 1629.2 L283.3 1626.2 L284.0 1623.3 L284.7 1620.4 L285.3 1617.5 L285.9 1614.5 L286.5 1611.6 L287.1 1608.7 L287.7 1605.7 L288.3 1602.8 L288.9 1599.8 L289.4 1596.9 L290.0 1593.9 L290.6 1591.0 L291.2 1588.1 L291.8 1585.1 L292.3 1582.2 L292.9 1579.2 L293.4 1576.3 L294.0 1573.3 L294.5 1570.4 L295.0 1567.4 L295.5 1564.4 L296.0 1561.5 L296.4 1558.5 L296.9 1555.5 L297.3 1552.6 L297.7 1549.6 L298.1 1546.6 L298.5 1543.7 L298.9 1540.7 L299.3 1537.7 L299.7 1534.7 L300.0 1531.8 L300.4 1528.8 L300.7 1525.8 L301.1 1522.8 L301.4 1519.8 L301.8 1516.9 L302.1 1513.9 L302.5 1510.9 L302.8 1507.9 L303.1 1504.9 L303.5 1502.0 L303.8 1499.0 L304.1 1496.0 L304.4 1493.0 L304.8 1490.0 L305.1 1487.0 L305.4 1484.1 L305.7 1481.1 L306.0 1478.1 L306.3 1475.1 L306.7 1472.1 L307.0 1469.1 L307.3 1466.2 L307.6 1463.2 L307.9 1460.2 L308.2 1457.2 L308.5 1454.2 L308.7 1451.2 L309.0 1448.2 L309.3 1445.3 L309.6 1442.3 L309.9 1439.3 L310.2 1436.3 L310.4 1433.3 L310.7 1430.3 L311.0 1427.3 L311.3 1424.3 L311.5 1421.4 L311.8 1418.4 L312.1 1415.4 L312.3 1412.4 L312.6 1409.4 L312.9 1406.4 L313.1 1403.4 L313.4 1400.4 L313.6 1397.4 L313.9 1394.5 L314.1 1391.5 L314.4 1388.5 L314.6 1385.5 L314.9 1382.5 L315.1 1379.5 L315.3 1376.5 L315.6 1373.5 L315.8 1370.5 L316.0 1367.5 L316.2 1364.6 L316.5 1361.6 L316.7 1358.6 L316.9 1355.6 L317.1 1352.6 L317.3 1349.6 L317.5 1346.6 L317.8 1343.6 L318.0 1340.6 L318.2 1337.6 L318.4 1334.6 L318.6 1331.6 L318.8 1328.6 L319.0 1325.7 L319.3 1322.7 L319.5 1319.7 L319.7 1316.7 L319.9 1313.7 L320.1 1310.7 L320.4 1307.7 L320.6 1304.7 L320.8 1301.7 L321.0 1298.7 L321.3 1295.7 L321.5 1292.7 L321.7 1289.8 L322.0 1286.8 L322.2 1283.8 L322.5 1280.8 L322.7 1277.8 L323.0 1274.8 L323.2 1271.8 L323.5 1268.8 L323.7 1265.8 L324.0 1262.8 L324.2 1259.9 L324.5 1256.9 L324.7 1253.9 L325.0 1250.9 L325.2 1247.9 L325.5 1244.9 L325.7 1241.9 L325.9 1238.9 L326.2 1235.9 L326.4 1232.9 L326.7 1230.0 L326.9 1227.0 L327.1 1224.0 L327.4 1221.0 L327.6 1218.0 L327.8 1215.0 L328.0 1212.0 L328.2 1209.0 L328.4 1206.0 L328.6 1203.0 L328.8 1200.0 L329.0 1197.0 L329.2 1194.0 L329.4 1191.0 L329.6 1188.1 L329.8 1185.1 L330.0 1182.1 L330.2 1179.1 L330.3 1176.1 L330.5 1173.1 L330.7 1170.1 L330.9 1167.1 L331.1 1164.1 L331.2 1161.1 L331.4 1158.1 L331.6 1155.1 L331.7 1152.1 L331.9 1149.1 L332.1 1146.1 L332.2 1143.1 L332.4 1140.1 L332.6 1137.1 L332.7 1134.1 L332.9 1131.1 L333.1 1128.2 L333.2 1125.2 L333.4 1122.2 L333.5 1119.2 L333.7 1116.2 L333.9 1113.2 L334.0 1110.2 L334.2 1107.2 L334.3 1104.2 L334.5 1101.2 L334.6 1098.2 L334.8 1095.2 L335.0 1092.2 L335.1 1089.2 L335.3 1086.2 L335.4 1083.2 L335.6 1080.2 L335.7 1077.2 L335.9 1074.2 L336.1 1071.2 L336.2 1068.2 L336.4 1065.2 L336.5 1062.2 L336.7 1059.2 L336.8 1056.3 L337.0 1053.3 L337.2 1050.3 L337.3 1047.3 L337.5 1044.3 L337.6 1041.3 L337.8 1038.3 L338.0 1035.3 L338.1 1032.3 L338.3 1029.3 L338.5 1026.3 L338.6 1023.3 L338.8 1020.3 L339.0 1017.3 L339.1 1014.3 L339.3 1011.3 L339.5 1008.3 L339.6 1005.3 L339.8 1002.3 L340.0 999.3 L340.2 996.3 L340.3 993.3 L340.5 990.4 L340.7 987.4 L340.9 984.4 L341.0 981.4 L341.2 978.4 L341.4 975.4 L341.6 972.4 L341.8 969.4 L341.9 966.4 L342.1 963.4 L342.3 960.4 L342.5 957.4 L342.7 954.4 L342.8 951.4 L343.0 948.4 L343.2 945.4 L343.4 942.4 L343.6 939.4 L343.8 936.4 L343.9 933.5 L344.1 930.5 L344.3 927.5 L344.5 924.5 L344.7 921.5 L344.9 918.5 L345.0 915.5 L345.2 912.5 L345.4 909.5 L345.6 906.5 L345.8 903.5 L346.0 900.5 L346.2 897.5 L346.3 894.5 L346.5 891.5 L346.7 888.5 L346.9 885.5 L347.1 882.6 L347.3 879.6 L347.5 876.6 L347.7 873.6 L347.8 870.6 L348.0 867.6 L348.2 864.6 L348.4 861.6 L348.6 858.6 L348.8 855.6 L349.0 852.6 L349.2 849.6 L349.4 846.6 L349.5 843.6 L349.7 840.6 L349.9 837.6 L350.1 834.6 L350.3 831.7 L350.5 828.7 L350.7 825.7 L350.9 822.7 L351.0 819.7 L351.2 816.7 L351.4 813.7 L351.6 810.7 L351.8 807.7 L352.0 804.7 L352.2 801.7 L352.4 798.7 L352.6 795.7 L352.7 792.7 L352.9 789.7 L353.1 786.7 L353.3 783.7 L353.5 780.7 L353.7 777.8 L353.9 774.8 L354.1 771.8 L354.3 768.8 L354.4 765.8 L354.6 762.8 L354.8 759.8 L355.0 756.8 L355.2 753.8 L355.4 750.8 L355.6 747.8 L355.8 744.8 L356.0 741.8 L356.2 738.8 L356.4 735.8 L356.5 732.8 L356.7 729.9 L356.9 726.9 L357.1 723.9 L357.3 720.9 L357.5 717.9 L357.7 714.9 L357.9 711.9 L358.1 708.9 L358.3 705.9 L358.5 702.9 L358.7 699.9 L358.8 696.9 L359.0 693.9 L359.2 690.9 L359.4 687.9 L359.6 684.9 L359.8 681.9 L360.0 679.0 L360.2 676.0 L360.4 673.0 L360.6 670.0 L360.8 667.0 L361.0 664.0 L361.1 661.0 L361.3 658.0 L361.5 655.0 L361.7 652.0 L361.9 649.0 L362.1 646.0 L362.3 643.0 L362.5 640.0 L362.7 637.0 L362.9 634.0 L363.1 631.1 L363.3 628.1 L363.4 625.1 L363.6 622.1 L363.8 619.1 L364.0 616.1 L364.2 613.1 L364.4 610.1 L364.6 607.1 L364.8 604.1 L365.0 601.1 L365.1 598.1 L365.3 595.1 L365.5 592.1 L365.7 589.1 L365.9 586.1 L366.1 583.1 L366.3 580.2 L366.5 577.2 L366.6 574.2 L366.8 571.2 L367.0 568.2 L367.2 565.2 L367.4 562.2 L367.5 559.2 L367.7 556.2 L367.9 553.2 L368.1 550.2 L368.3 547.2 L368.4 544.2 L368.6 541.2 L368.8 538.2 L369.0 535.2 L369.2 532.2 L369.3 529.2 L369.5 526.2 L369.7 523.3 L369.9 520.3 L370.0 517.3 L370.2 514.3 L370.4 511.3 L370.6 508.3 L370.8 505.3 L370.9 502.3 L371.1 499.3 L371.3 496.3 L371.5 493.3 L371.7 490.3 L371.8 487.3 L372.0 484.3 L372.2 481.3 L372.4 478.3 L372.6 475.3 L372.8 472.3 L372.9 469.3 L373.1 466.4 L373.3 463.4 L373.5 460.4 L373.7 457.4 L373.9 454.4 L374.1 451.4 L374.2 448.4 L374.4 445.4 L374.6 442.4 L374.8 439.4 L375.0 436.4 L375.2 433.4 L375.4 430.4 L375.6 427.4 L375.8 424.4 L376.0 421.4 L376.2 418.5 L376.4 415.5 L376.6 412.5 L376.8 409.5 L377.0 406.5 L377.3 403.5 L377.5 400.5 L377.7 397.5 L377.9 394.5 L378.2 391.5 L378.4 388.5 L378.6 385.5 L378.9 382.6 L379.1 379.6 L379.4 376.6 L379.6 373.6 L379.9 370.6 L380.1 367.6 L380.3 364.6 L380.6 361.6 L380.8 358.6 L381.0 355.6 L381.3 352.6 L381.5 349.7 L381.7 346.7 L381.9 343.7 L382.1 340.7 L382.3 337.7 L382.5 334.7 L382.7 331.7 L382.9 328.7 L383.1 325.7 L383.3 322.7 L383.5 319.7 L383.7 316.7 L383.9 313.7 L384.1 310.7 L384.3 307.7 L384.5 304.8 L384.8 301.8 L385.0 298.8 L385.3 295.8 L385.5 292.8 L385.8 289.8 L386.0 286.8 L386.3 283.8 L386.6 280.8 L386.8 277.9 L387.1 274.9 L387.4 271.9 L387.7 268.9 L387.9 265.9 L388.1 262.9 L388.2 261.9 L388.4 259.9 L388.6 256.9 L388.8 253.9 L389.0 250.9 L389.2 247.9 L389.4 245.0 L389.6 242.0 L389.8 239.0 L390.0 236.0 L390.2 233.0 L390.4 230.0 L390.6 227.0 L390.7 226.0 L391.1 224.0 L391.7 221.1 L392.3 218.2 L393.0 215.2 L393.6 212.3 L394.2 209.4 L394.8 206.4 L395.4 203.5 L396.0 200.6 L396.6 197.6 L397.3 194.7 L397.9 191.7 L398.5 188.8 L399.1 185.9 L399.7 182.9 L400.3 180.0 L400.5 179.0 L401.3 180.4 L402.6 183.0 L403.9 185.6 L405.2 188.3 L406.5 191.0 L407.7 193.8 L409.0 196.5 L410.3 199.2 L411.6 201.9 L412.5 203.7 L412.7 204.7 L412.9 207.7 L413.2 210.7 L413.4 213.6 L413.7 216.6 L413.9 219.6 L414.1 222.6 L414.4 225.6 L414.6 228.6 L414.9 231.6 L415.0 232.6 L415.2 234.6 L415.5 237.6 L415.8 240.5 L416.1 243.5 L416.4 246.5 L416.7 249.5 L417.0 252.5 L417.3 255.5 L417.6 258.4 L417.9 261.4 L418.0 262.4 L418.2 264.4 L418.5 267.4 L418.8 270.4 L419.1 273.4 L419.4 276.4 L419.7 279.3 L420.0 282.3 L420.3 285.3 L420.6 288.3 L420.9 291.3 L421.1 294.3 L421.4 297.3 L421.7 300.2 L422.0 303.2 L422.3 306.2 L422.6 309.2 L422.8 312.2 L423.1 315.2 L423.3 318.2 L423.6 321.2 L423.8 324.1 L424.1 327.1 L424.3 330.1 L424.6 333.1 L424.8 336.1 L425.1 339.1 L425.3 342.1 L425.6 345.1 L425.9 348.1 L426.0 350.1 L426.1 351.1 L426.4 354.0 L426.6 357.0 L426.8 360.0 L427.1 363.0 L427.3 366.0 L427.5 369.0 L427.8 372.0 L428.0 375.0 L428.3 378.0 L428.5 381.0 L428.8 383.9 L429.0 386.9 L429.3 389.9 L429.6 392.9 L429.9 395.9 L430.2 398.9 L430.5 401.9 L430.8 404.9 L431.1 407.8 L431.4 410.8 L431.7 413.8 L431.9 416.8 L432.2 419.8 L432.5 422.8 L432.8 425.8 L433.1 428.7 L433.3 431.7 L433.6 434.7 L433.8 437.7 L434.1 440.7 L434.3 443.7 L434.6 446.7 L434.8 449.7 L435.0 452.7 L435.3 455.7 L435.5 458.6 L435.7 461.6 L435.9 464.6 L436.2 467.6 L436.4 470.6 L436.6 473.6 L436.8 476.6 L437.0 479.6 L437.3 482.6 L437.5 485.6 L437.7 488.6 L437.9 491.6 L438.1 494.5 L438.3 497.5 L438.5 500.5 L438.7 503.5 L439.0 506.5 L439.2 509.5 L439.4 512.5 L439.6 515.5 L439.8 518.5 L440.0 521.5 L440.2 524.5 L440.4 527.5 L440.6 530.5 L440.8 533.5 L441.0 536.4 L441.2 539.4 L441.4 542.4 L441.6 545.4 L441.8 548.4 L442.0 551.4 L442.2 554.4 L442.4 557.4 L442.6 560.4 L442.8 563.4 L443.0 566.4 L443.2 569.4 L443.4 572.4 L443.6 575.4 L443.8 578.4 L444.0 581.3 L444.2 584.3 L444.4 587.3 L444.6 590.3 L444.8 593.3 L445.0 596.3 L445.2 599.3 L445.4 602.3 L445.6 605.3 L445.8 608.3 L446.0 611.3 L446.2 614.3 L446.4 617.3 L446.6 620.3 L446.8 623.3 L447.0 626.2 L447.2 629.2 L447.4 632.2 L447.6 635.2 L447.8 638.2 L448.0 641.2 L448.2 644.2 L448.4 647.2 L448.6 650.2 L448.8 653.2 L449.0 656.2 L449.2 659.2 L449.4 662.2 L449.6 665.2 L449.8 668.2 L450.0 671.2 L450.2 674.1 L450.4 677.1 L450.5 680.1 L450.7 683.1 L450.9 686.1 L451.1 689.1 L451.3 692.1 L451.5 695.1 L451.7 698.1 L451.9 701.1 L452.1 704.1 L452.3 707.1 L452.4 710.1 L452.6 713.1 L452.8 716.1 L453.0 719.1 L453.2 722.1 L453.4 725.0 L453.6 728.0 L453.8 731.0 L454.0 734.0 L454.1 737.0 L454.3 740.0 L454.5 743.0 L454.7 746.0 L454.9 749.0 L455.1 752.0 L455.3 755.0 L455.5 758.0 L455.7 761.0 L455.8 764.0 L456.0 767.0 L456.2 770.0 L456.4 773.0 L456.6 775.9 L456.8 778.9 L457.0 781.9 L457.2 784.9 L457.4 787.9 L457.5 790.9 L457.7 793.9 L457.9 796.9 L458.1 799.9 L458.3 802.9 L458.5 805.9 L458.7 808.9 L458.9 811.9 L459.1 814.9 L459.2 817.9 L459.4 820.9 L459.6 823.9 L459.8 826.8 L460.0 829.8 L460.2 832.8 L460.4 835.8 L460.6 838.8 L460.7 841.8 L460.9 844.8 L461.1 847.8 L461.3 850.8 L461.5 853.8 L461.7 856.8 L461.9 859.8 L462.1 862.8 L462.2 865.8 L462.4 868.8 L462.6 871.8 L462.8 874.8 L463.0 877.7 L463.2 880.7 L463.4 883.7 L463.5 886.7 L463.7 889.7 L463.9 892.7 L464.1 895.7 L464.3 898.7 L464.5 901.7 L464.7 904.7 L464.8 907.7 L465.0 910.7 L465.2 913.7 L465.4 916.7 L465.6 919.7 L465.8 922.7 L466.0 925.7 L466.1 928.7 L466.3 931.6 L466.5 934.6 L466.7 937.6 L466.9 940.6 L467.1 943.6 L467.3 946.6 L467.4 949.6 L467.6 952.6 L467.8 955.6 L468.0 958.6 L468.2 961.6 L468.4 964.6 L468.6 967.6 L468.7 970.6 L468.9 973.6 L469.1 976.6 L469.3 979.6 L469.5 982.5 L469.7 985.5 L469.9 988.5 L470.0 991.5 L470.2 994.5 L470.4 997.5 L470.6 1000.5 L470.8 1003.5 L471.0 1006.5 L471.1 1009.5 L471.3 1012.5 L471.5 1015.5 L471.7 1018.5 L471.9 1021.5 L472.1 1024.5 L472.2 1027.5 L472.4 1030.5 L472.6 1033.5 L472.8 1036.5 L473.0 1039.4 L473.1 1042.4 L473.3 1045.4 L473.5 1048.4 L473.7 1051.4 L473.9 1054.4 L474.0 1057.4 L474.2 1060.4 L474.4 1063.4 L474.6 1066.4 L474.7 1069.4 L474.9 1072.4 L475.1 1075.4 L475.3 1078.4 L475.5 1081.4 L475.6 1084.4 L475.8 1087.4 L476.0 1090.4 L476.2 1093.4 L476.3 1096.3 L476.5 1099.3 L476.7 1102.3 L476.9 1105.3 L477.1 1108.3 L477.2 1111.3 L477.4 1114.3 L477.6 1117.3 L477.8 1120.3 L478.0 1123.3 L478.1 1126.3 L478.3 1129.3 L478.5 1132.3 L478.7 1135.3 L478.9 1138.3 L479.1 1141.3 L479.2 1144.3 L479.4 1147.3 L479.6 1150.2 L479.8 1153.2 L480.0 1156.2 L480.2 1159.2 L480.4 1162.2 L480.6 1165.2 L480.7 1168.2 L480.9 1171.2 L481.1 1174.2 L481.3 1177.2 L481.5 1180.2 L481.7 1183.2 L481.9 1186.2 L482.1 1189.2 L482.3 1192.2 L482.5 1195.2 L482.7 1198.1 L482.9 1201.1 L483.1 1204.1 L483.3 1207.1 L483.6 1210.1 L483.8 1213.1 L484.0 1216.1 L484.2 1219.1 L484.4 1222.1 L484.6 1225.1 L484.8 1228.1 L485.0 1231.1 L485.3 1234.1 L485.5 1237.1 L485.7 1240.0 L485.9 1243.0 L486.1 1246.0 L486.4 1249.0 L486.6 1252.0 L486.8 1255.0 L487.1 1258.0 L487.3 1261.0 L487.5 1264.0 L487.7 1267.0 L488.0 1270.0 L488.2 1272.9 L488.5 1275.9 L488.7 1278.9 L489.0 1281.9 L489.2 1284.9 L489.5 1287.9 L489.7 1290.9 L490.0 1293.9 L490.2 1296.9 L490.5 1299.9 L490.7 1302.8 L491.0 1305.8 L491.3 1308.8 L491.6 1311.8 L491.8 1314.8 L492.1 1317.8 L492.4 1320.8 L492.7 1323.8 L492.9 1326.7 L493.2 1329.7 L493.5 1332.7 L493.8 1335.7 L494.1 1338.7 L494.4 1341.7 L494.7 1344.7 L495.0 1347.6 L495.3 1350.6 L495.6 1353.6 L495.9 1356.6 L496.2 1359.6 L496.5 1362.6 L496.9 1365.5 L497.2 1368.5 L497.5 1371.5 L497.9 1374.5 L498.2 1377.5 L498.6 1380.4 L498.9 1383.4 L499.3 1386.4 L499.7 1389.4 L500.0 1392.4 L500.4 1395.3 L500.8 1398.3 L501.3 1401.3 L501.7 1404.2 L502.1 1407.2 L502.5 1410.2 L503.0 1413.1 L503.4 1416.1 L503.9 1419.1 L504.4 1422.0 L504.9 1425.0 L505.4 1428.0 L505.9 1430.9 L506.4 1433.9 L506.9 1436.8 L507.5 1439.8 L508.0 1442.7 L508.6 1445.7 L509.2 1448.6 L509.7 1451.6 L510.3 1454.5 L510.9 1457.4 L511.6 1460.4 L512.2 1463.3 L512.8 1466.2 L513.4 1469.2 L514.0 1472.1 L514.7 1475.0 L515.3 1478.0 L516.0 1480.9 L516.6 1483.8 L517.3 1486.8 L517.9 1489.7 L518.6 1492.6 L519.3 1495.5 L520.0 1498.4 L520.7 1501.4 L521.4 1504.3 L522.1 1507.2 L522.9 1510.1 L523.6 1513.0 L524.4 1515.9 L525.2 1518.8 L526.0 1521.7 L526.8 1524.6 L527.6 1527.5 L528.5 1530.3 L529.3 1533.2 L530.2 1536.1 L531.1 1538.9 L532.1 1541.8 L533.0 1544.6 L534.0 1547.5 L534.9 1550.3 L535.9 1553.1 L536.9 1556.0 L538.0 1558.8 L539.0 1561.6 L540.1 1564.4 L541.2 1567.2 L542.3 1570.0 L543.5 1572.8 L544.7 1575.5 L545.9 1578.2 L547.2 1581.0 L548.5 1583.6 L549.9 1586.3 L551.3 1588.9 L552.8 1591.5 L554.4 1594.1 L556.0 1596.6 L557.6 1599.1 L559.3 1601.6 L561.0 1604.1 L562.7 1606.6 L564.5 1609.0 L566.2 1611.4 L568.0 1613.8 L569.8 1616.3 L571.6 1618.7 L573.4 1621.0 L575.2 1623.4 L577.1 1625.7 L579.0 1628.1 L580.9 1630.4 L582.8 1632.7 L584.7 1635.0 L586.7 1637.3 L588.6 1639.6 L590.6 1641.9 L592.6 1644.1 L594.6 1646.3 L596.5 1648.6 L598.5 1650.9 L600.5 1653.1 L602.3 1655.5 L604.2 1657.8 L606.0 1660.2 L607.8 1662.6 L609.7 1665.0 L611.5 1667.4 L613.4 1669.7 L615.4 1671.9 L617.5 1674.1 L619.7 1676.1 L622.0 1678.0 L624.4 1679.8 L626.9 1681.5 L629.4 1683.1 L631.9 1684.7 L634.5 1686.2 L637.1 1687.7 L639.7 1689.2 L642.3 1690.7 L644.9 1692.2 L647.4 1693.9 L649.9 1695.5 L652.4 1697.2 L654.9 1698.9 L657.4 1700.6 L659.9 1702.1 L662.6 1703.6 L665.3 1704.8 L668.1 1705.8 L671.0 1706.6 L673.9 1707.2 L676.8 1707.8 L679.8 1708.3 L682.8 1708.7 L685.7 1709.1 L688.7 1709.5 L691.7 1709.9 L694.7 1710.3 L697.7 1710.6 L700.6 1710.9 L703.6 1711.2 L706.6 1711.5 L709.6 1711.8 L712.6 1712.1 L715.6 1712.5 L718.5 1712.8 L721.5 1713.2 L724.5 1713.6 L727.4 1714.1 L730.4 1714.4 L733.4 1714.7 L736.4 1714.9 L737.4 1715.0 L739.4 1714.9 L742.4 1714.6 L745.4 1714.3 L748.3 1713.8 L751.3 1713.4 L754.3 1713.1 L757.3 1712.8 L759.2 1712.7 L760.2 1712.7 L763.2 1712.7 L766.2 1712.8 L769.2 1712.8 L772.2 1712.9 L775.2 1713.0 L778.2 1713.1 L781.2 1713.1 L784.2 1713.2 L787.2 1713.3 L790.2 1713.3 L792.2 1713.3 L793.2 1713.3 L796.2 1713.3 L799.2 1713.2 L802.2 1713.1 L805.2 1713.1 L808.2 1713.0 L811.2 1712.8 L814.2 1712.7 L817.2 1712.6 L820.2 1712.5 L823.2 1712.3 L826.2 1712.2 L829.2 1712.0 L832.2 1711.8 L835.2 1711.6 L838.2 1711.4 L841.2 1711.2 L844.2 1711.0 L847.2 1710.7 L850.1 1710.4 L853.1 1709.9 L856.1 1709.4 L859.0 1708.6 L861.8 1707.8 L864.7 1706.8 L867.5 1705.7 L870.3 1704.6 L873.1 1703.5 L875.9 1702.5 L878.7 1701.4 L881.5 1700.5 L884.4 1699.6 L887.3 1698.7 L890.1 1697.9 L893.0 1697.1 L895.9 1696.2 L898.8 1695.4 L901.7 1694.6 L904.6 1693.9 L907.5 1693.1 L910.4 1692.4 L913.3 1691.7 L916.2 1691.0 L919.2 1690.3 L922.1 1689.6 L925.0 1688.9 L927.9 1688.3 L930.9 1687.7 L933.8 1687.2 L936.8 1686.7 L939.8 1686.4 L942.8 1686.1 L945.7 1685.9 L948.7 1685.7 L951.7 1685.4 L954.7 1685.3 L957.7 1685.1 L960.7 1685.1 L963.7 1685.0 L966.7 1685.1 L969.7 1685.2 L972.7 1685.3 L975.7 1685.4 L978.7 1685.5 L981.7 1685.3 L984.7 1685.0 L987.6 1684.5 L990.6 1683.9 L993.5 1683.2 L996.4 1682.4 L999.3 1681.6 L1002.1 1680.7 L1005.0 1679.8 L1007.8 1678.8 L1010.6 1677.8 L1013.4 1676.6 L1016.1 1675.3 L1018.8 1674.0 L1021.5 1672.6 L1024.2 1671.3 L1026.8 1670.0 L1029.6 1668.7 L1032.3 1667.5 L1035.1 1666.3 L1037.8 1665.1 L1040.5 1663.8 L1043.1 1662.3 L1045.7 1660.8 L1048.1 1659.1 L1050.5 1657.3 L1052.9 1655.4 L1055.1 1653.4 L1057.3 1651.4 L1059.5 1649.3 L1061.5 1647.1 L1063.5 1644.8 L1065.3 1642.5 L1067.1 1640.1 L1068.8 1637.6 L1070.4 1635.0 L1071.9 1632.5 L1073.4 1629.9 L1074.9 1627.3 L1076.4 1624.6 L1077.8 1622.0 L1079.1 1619.3 L1080.4 1616.6 L1081.7 1613.9 L1083.0 1611.2 L1084.2 1608.4 L1085.4 1605.7 L1086.6 1602.9 L1087.8 1600.2 L1089.0 1597.4 L1090.2 1594.7 L1091.4 1591.9 L1092.6 1589.2 L1093.9 1586.5 L1095.1 1583.7 L1096.4 1581.0 L1097.6 1578.3 L1098.9 1575.6 L1100.2 1572.8 L1101.4 1570.1 L1102.7 1567.4 L1103.9 1564.7 L1105.2 1561.9 L1106.4 1559.2 L1107.6 1556.5 L1108.8 1553.7 L1110.0 1550.9 L1111.1 1548.2 L1112.3 1545.4 L1113.5 1542.7 L1114.6 1539.9 L1115.8 1537.1 L1117.0 1534.4 L1118.2 1531.6 L1119.4 1528.9 L1120.7 1526.1 L1122.0 1523.4 L1123.3 1520.7 L1124.7 1518.1 L1126.1 1515.4 L1127.5 1512.8 L1129.0 1510.2 L1130.6 1507.6 L1132.2 1505.1 L1134.0 1502.8 L1136.1 1500.6 L1138.2 1498.5 L1140.5 1496.5 L1142.8 1494.6 L1145.2 1492.8 L1147.7 1491.2 L1150.3 1489.8 L1153.1 1488.7 L1156.0 1488.1 L1156.9 1487.9 L1158.9 1488.3 L1161.8 1489.0 L1164.5 1490.2 L1167.1 1491.6 L1169.6 1493.3 L1171.9 1495.2 L1174.2 1497.1 L1176.4 1499.1 L1178.5 1501.3 L1180.4 1503.6 L1182.0 1506.1 L1183.4 1508.7 L1184.8 1511.3 L1186.2 1514.0 L1187.5 1516.7 L1188.8 1519.4 L1190.1 1522.1 L1191.4 1524.8 L1192.6 1527.6 L1193.9 1530.3 L1195.2 1533.0 L1196.5 1535.7 L1197.8 1538.4 L1199.0 1541.2 L1200.3 1543.9 L1201.6 1546.6 L1202.8 1549.3 L1204.0 1552.1 L1205.3 1554.8 L1206.4 1557.6 L1207.6 1560.3 L1208.7 1563.1 L1209.8 1565.9 L1210.9 1568.7 L1212.0 1571.5 L1213.1 1574.3 L1214.2 1577.1 L1215.3 1579.9 L1216.4 1582.6 L1217.6 1585.4 L1218.7 1588.2 L1219.9 1590.9 L1221.1 1593.7 L1222.4 1596.4 L1223.6 1599.1 L1224.9 1601.8 L1226.3 1604.5 L1227.6 1607.2 L1229.0 1609.9 L1230.4 1612.5 L1231.9 1615.1 L1233.4 1617.8 L1234.9 1620.3 L1236.4 1622.9 L1238.1 1625.4 L1239.7 1627.9 L1241.4 1630.4 L1243.2 1632.8 L1245.0 1635.2 L1246.9 1637.5 L1248.9 1639.8 L1251.0 1641.9 L1253.1 1644.0 L1255.2 1646.1 L1257.5 1648.1 L1259.7 1650.1 L1262.0 1652.0 L1264.4 1653.9 L1266.8 1655.6 L1269.4 1657.2 L1272.0 1658.6 L1274.7 1660.0 L1277.4 1661.1 L1280.2 1662.2 L1283.1 1663.2 L1285.9 1664.1 L1288.8 1665.0 L1291.7 1665.8 L1294.6 1666.7 L1297.4 1667.5 L1300.3 1668.4 L1303.2 1669.3 L1306.0 1670.2 L1308.9 1671.1 L1311.8 1671.9 L1314.7 1672.5 L1317.7 1673.0 L1320.6 1673.3 L1323.6 1673.2 L1326.6 1672.9 L1329.6 1672.6 L1332.6 1672.1 L1335.5 1671.5 L1338.5 1671.0 L1341.4 1670.4 L1344.3 1669.8 L1347.3 1669.2 L1350.2 1668.6 L1353.2 1668.0 L1356.1 1667.4 L1359.0 1666.8 L1362.0 1666.1 L1364.9 1665.5 L1367.8 1664.8 L1370.7 1664.1 L1373.6 1663.3 L1376.5 1662.5 L1379.4 1661.6 L1382.1 1660.4 L1384.8 1659.1 L1387.3 1657.5 L1389.8 1655.8 L1392.2 1654.0 L1394.5 1652.1 L1396.8 1650.2 L1399.0 1648.2 L1401.2 1646.1 L1403.4 1644.0 L1405.4 1641.8 L1407.4 1639.6 L1409.3 1637.3 L1411.2 1634.9 L1413.0 1632.5 L1414.8 1630.1 L1416.5 1627.7 L1418.2 1625.2 L1419.9 1622.7 L1421.5 1620.2 L1423.1 1617.7 L1424.7 1615.1 L1426.2 1612.5 L1427.7 1609.9 L1429.1 1607.3 L1430.5 1604.6 L1431.9 1602.0 L1433.3 1599.3 L1434.6 1596.6 L1435.9 1593.9 L1437.1 1591.2 L1438.4 1588.4 L1439.6 1585.7 L1440.8 1582.9 L1441.9 1580.2 L1443.0 1577.4 L1444.1 1574.6 L1445.2 1571.8 L1446.3 1569.0 L1447.3 1566.2 L1448.4 1563.4 L1449.4 1560.5 L1450.5 1557.7 L1451.5 1554.9 L1452.5 1552.1 L1453.5 1549.3 L1454.5 1546.4 L1455.6 1543.6 L1456.6 1540.8 L1457.6 1538.0 L1458.6 1535.1 L1459.6 1532.3 L1460.6 1529.5 L1461.6 1526.7 L1462.5 1523.8 L1463.5 1521.0 L1464.5 1518.1 L1465.5 1515.3 L1466.5 1512.5 L1467.4 1509.6 L1468.4 1506.8 L1469.4 1504.0 L1470.5 1501.2 L1471.5 1498.4 L1472.5 1495.5 L1473.6 1492.7 L1474.7 1489.9 L1475.7 1487.1 L1476.8 1484.3 L1477.9 1481.5 L1479.0 1478.7 L1480.1 1475.9 L1481.2 1473.1 L1482.3 1470.3 L1483.4 1467.5 L1484.6 1464.8 L1485.8 1462.0 L1487.1 1459.3 L1488.4 1456.6 L1489.8 1454.0 L1491.3 1451.4 L1493.0 1448.9 L1494.8 1446.6 L1496.8 1444.3 L1498.9 1442.2 L1501.0 1440.1 L1503.3 1438.1 L1505.6 1436.2 L1508.1 1434.6 L1510.7 1433.2 L1513.5 1432.3 L1515.5 1431.9 L1516.4 1432.1 L1519.3 1432.8 L1522.1 1433.9 L1524.7 1435.3 L1527.2 1436.9 L1529.7 1438.7 L1532.0 1440.5 L1534.2 1442.6 L1536.1 1444.8 L1537.9 1447.2 L1539.6 1449.7 L1541.1 1452.3 L1542.6 1454.9 L1544.0 1457.5 L1545.4 1460.1 L1546.8 1462.8 L1548.1 1465.5 L1549.4 1468.2 L1550.7 1471.0 L1551.9 1473.7 L1553.1 1476.5 L1554.3 1479.2 L1555.5 1482.0 L1556.6 1484.7 L1557.8 1487.5 L1558.9 1490.3 L1560.0 1493.1 L1561.0 1495.9 L1562.1 1498.7 L1563.1 1501.5 L1564.2 1504.3 L1565.2 1507.2 L1566.3 1510.0 L1567.3 1512.8 L1568.4 1515.6 L1569.4 1518.4 L1570.5 1521.2 L1571.6 1524.0 L1572.7 1526.8 L1573.7 1529.6 L1574.8 1532.4 L1575.9 1535.2 L1577.0 1538.0 L1578.1 1540.8 L1579.1 1543.6 L1580.3 1546.4 L1581.4 1549.2 L1582.5 1551.9 L1583.7 1554.7 L1584.9 1557.4 L1586.1 1560.2 L1587.4 1562.9 L1588.8 1565.6 L1590.2 1568.2 L1591.7 1570.8 L1593.2 1573.4 L1594.8 1575.9 L1596.4 1578.5 L1598.1 1580.9 L1599.8 1583.4 L1601.6 1585.8 L1603.5 1588.1 L1605.4 1590.5 L1607.3 1592.7 L1609.4 1594.9 L1611.4 1597.1 L1613.5 1599.3 L1615.7 1601.4 L1617.9 1603.4 L1620.1 1605.4 L1622.5 1607.2 L1624.9 1608.9 L1627.5 1610.5 L1630.1 1611.9 L1632.8 1613.2 L1635.6 1614.4 L1638.4 1615.5 L1641.2 1616.5 L1644.1 1617.3 L1647.0 1617.9 L1650.0 1618.4 L1652.9 1618.8 L1655.9 1619.1 L1658.9 1619.5 L1661.9 1619.8 L1664.9 1620.0 L1667.9 1620.2 L1670.9 1620.4 L1673.9 1620.5 L1675.9 1620.5 L1676.9 1620.5 L1679.9 1620.4 L1682.9 1620.2 L1685.8 1619.9 L1688.8 1619.6 L1691.8 1619.1 L1694.7 1618.6 L1697.7 1618.1 L1700.6 1617.5 L1703.6 1616.8 L1706.4 1616.0 L1709.2 1614.9 L1711.9 1613.6 L1714.5 1612.2 L1717.2 1610.7 L1719.8 1609.2 L1722.3 1607.7 L1724.9 1606.1 L1727.4 1604.4 L1729.8 1602.7 L1732.2 1600.9 L1734.6 1599.1 L1736.9 1597.2 L1739.2 1595.2 L1741.4 1593.2 L1743.6 1591.2 L1745.8 1589.1 L1747.8 1586.9 L1749.8 1584.6 L1751.6 1582.3 L1753.4 1579.8 L1755.1 1577.4 L1756.6 1574.8 L1758.1 1572.2 L1759.4 1569.5 L1760.8 1566.8 L1762.1 1564.1 L1763.3 1561.4 L1764.5 1558.6 L1765.7 1555.9 L1766.9 1553.1 L1768.0 1550.3 L1769.2 1547.6 L1770.3 1544.8 L1771.5 1542.0 L1772.6 1539.2 L1773.7 1536.5 L1774.9 1533.7 L1776.0 1530.9 L1777.0 1528.1 L1778.1 1525.3 L1779.1 1522.5 L1780.1 1519.6 L1781.1 1516.8 L1782.0 1514.0 L1782.9 1511.1 L1783.8 1508.2 L1784.6 1505.3 L1785.5 1502.5 L1786.2 1499.6 L1787.0 1496.7 L1787.8 1493.8 L1788.5 1490.9 L1789.2 1487.9 L1789.9 1485.0 L1790.6 1482.1 L1791.3 1479.2 L1792.0 1476.3 L1792.7 1473.4 L1793.4 1470.4 L1794.2 1467.5 L1794.9 1464.6 L1795.6 1461.7 L1796.3 1458.8 L1797.0 1455.9 L1797.8 1453.0 L1798.5 1450.1 L1799.3 1447.2 L1800.0 1444.3 L1800.8 1441.4 L1801.6 1438.5 L1802.3 1435.6 L1803.1 1432.7 L1803.9 1429.8 L1804.6 1426.9 L1805.4 1423.9 L1806.1 1421.0 L1806.9 1418.1 L1807.6 1415.2 L1808.3 1412.3 L1809.0 1409.4 L1809.6 1406.5 L1810.3 1403.5 L1810.9 1400.6 L1811.6 1397.7 L1812.2 1394.7 L1812.9 1391.8 L1813.5 1388.9 L1814.1 1385.9 L1814.7 1383.0 L1815.3 1380.1 L1815.9 1377.1 L1816.6 1374.2 L1817.2 1371.3 L1817.7 1368.3 L1818.3 1365.4 L1818.9 1362.4 L1819.5 1359.5 L1820.1 1356.5 L1820.6 1353.6 L1821.2 1350.6 L1821.7 1347.7 L1822.2 1344.7 L1822.7 1341.8 L1823.3 1338.8 L1823.8 1335.9 L1824.3 1332.9 L1824.8 1330.0 L1825.3 1327.0 L1825.9 1324.1 L1826.4 1321.1 L1826.9 1318.1 L1827.5 1315.2 L1828.0 1312.3 L1828.6 1309.3 L1829.2 1306.4 L1829.8 1303.4 L1830.4 1300.5 L1830.9 1297.5 L1831.5 1294.6 L1832.1 1291.7 L1832.7 1288.7 L1833.3 1285.8 L1833.8 1282.8 L1834.3 1279.9 L1834.9 1276.9 L1835.4 1274.0 L1835.9 1271.0 L1836.4 1268.0 L1836.9 1265.1 L1837.4 1262.1 L1837.9 1259.2 L1838.5 1256.2 L1839.0 1253.3 L1839.6 1250.3 L1840.2 1247.4 L1840.8 1244.4 L1841.5 1241.5 L1842.1 1238.6 L1842.9 1235.7 L1843.6 1232.8 L1844.4 1229.9 L1845.2 1227.0 L1846.0 1224.1 L1846.9 1221.2 L1847.7 1218.4 L1848.6 1215.5 L1849.5 1212.6 L1850.4 1209.7 L1851.4 1206.9 L1852.3 1204.0 L1853.4 1201.2 L1854.4 1198.4 L1855.6 1195.6 L1856.8 1192.9 L1858.1 1190.2 L1859.5 1187.6 L1861.0 1185.0 L1862.6 1182.5 L1864.3 1180.0 L1866.2 1177.7 L1868.4 1175.8 L1870.8 1174.2 L1873.8 1174.7 L1876.7 1175.4 L1879.5 1176.5 L1882.1 1177.9 L1884.5 1179.6 L1886.7 1181.6 L1888.5 1183.9 L1890.0 1186.4 L1891.3 1189.0 L1892.4 1191.7 L1893.4 1194.5 L1894.3 1197.4 L1895.1 1200.3 L1895.9 1203.2 L1896.5 1206.2 L1897.2 1209.2 L1897.8 1212.2 L1898.4 1215.1 L1899.0 1218.1 L1899.7 1221.0 L1900.3 1224.0 L1901.0 1226.9 L1901.7 1229.8 L1902.3 1232.7 L1903.0 1235.7 L1903.6 1238.6 L1904.3 1241.5 L1904.9 1244.5 L1905.5 1247.4 L1906.1 1250.3 L1906.7 1253.3 L1907.3 1256.2 L1907.8 1259.2 L1908.4 1262.1 L1909.0 1265.1 L1909.6 1268.0 L1910.2 1270.9 L1910.8 1273.9 L1911.4 1276.8 L1912.0 1279.8 L1912.6 1282.7 L1913.2 1285.6 L1913.9 1288.6 L1914.6 1291.5 L1915.2 1294.4 L1915.9 1297.3 L1916.5 1300.3 L1917.2 1303.2 L1917.9 1306.1 L1918.5 1309.0 L1919.1 1312.0 L1919.7 1314.9 L1920.3 1317.9 L1920.9 1320.8 L1921.4 1323.7 L1922.0 1326.7 L1922.5 1329.7 L1923.0 1332.6 L1923.5 1335.6 L1924.0 1338.5 L1924.5 1341.5 L1925.1 1344.4 L1925.6 1347.4 L1926.1 1350.3 L1926.7 1353.3 L1927.2 1356.2 L1927.8 1359.2 L1928.4 1362.1 L1928.9 1365.1 L1929.5 1368.0 L1930.1 1370.9 L1930.7 1373.9 L1931.3 1376.8 L1931.9 1379.8 L1932.5 1382.7 L1933.1 1385.6 L1933.7 1388.6 L1934.3 1391.5 L1934.9 1394.5 L1935.5 1397.4 L1936.1 1400.4 L1936.7 1403.3 L1937.3 1406.2 L1937.8 1409.2 L1938.4 1412.1 L1939.0 1415.1 L1939.5 1418.0 L1940.1 1421.0 L1940.7 1423.9 L1941.2 1426.9 L1941.8 1429.8 L1942.4 1432.8 L1942.9 1435.7 L1943.5 1438.6 L1944.2 1441.6 L1944.9 1444.5 L1945.6 1447.4 L1946.3 1450.3 L1947.1 1453.2 L1947.9 1456.1 L1948.7 1459.0 L1949.6 1461.8 L1950.4 1464.7 L1951.3 1467.6 L1952.1 1470.5 L1953.0 1473.3 L1953.8 1476.2 L1954.6 1479.1 L1955.4 1482.0 L1956.1 1484.9 L1956.8 1487.8 L1957.5 1490.7 L1958.2 1493.7 L1958.9 1496.6 L1959.5 1499.5 L1960.2 1502.5 L1960.9 1505.4 L1961.6 1508.3 L1962.4 1511.2 L1963.2 1514.1 L1964.1 1516.9 L1965.0 1519.8 L1965.9 1522.6 L1966.9 1525.5 L1968.0 1528.3 L1969.1 1531.1 L1970.2 1533.8 L1971.4 1536.6 L1972.7 1539.3 L1973.9 1542.0 L1975.2 1544.7 L1976.5 1547.4 L1977.8 1550.1 L1979.1 1552.8 L1980.5 1555.5 L1981.8 1558.2 L1983.1 1560.9 L1984.4 1563.6 L1985.7 1566.3 L1987.0 1569.1 L1988.2 1571.8 L1989.5 1574.5 L1990.8 1577.2 L1992.1 1579.9 L1993.5 1582.6 L1994.8 1585.3 L1996.1 1587.9 L1997.5 1590.6 L1998.9 1593.3 L2000.3 1595.9 L2001.8 1598.5 L2003.3 1601.1 L2004.8 1603.7 L2006.3 1606.3 L2007.8 1608.9 L2009.4 1611.4 L2011.0 1614.0 L2012.6 1616.5 L2014.2 1619.1 L2015.9 1621.6 L2017.5 1624.1 L2019.2 1626.5 L2020.9 1629.0 L2022.7 1631.4 L2024.5 1633.8 L2026.3 1636.2 L2028.2 1638.6 L2030.1 1640.9 L2032.0 1643.2 L2034.0 1645.4 L2036.1 1647.6 L2038.2 1649.7 L2040.3 1651.8 L2042.4 1653.9 L2044.6 1656.1 L2046.7 1658.2 L2048.7 1660.4 L2050.8 1662.6 L2052.8 1664.8 L2054.9 1667.0 L2057.0 1669.1 L2059.1 1671.1 L2061.4 1673.1 L2063.8 1674.9 L2066.3 1676.6 L2068.8 1678.2 L2071.4 1679.8 L2073.9 1681.3 L2076.5 1682.8 L2079.2 1684.2 L2081.8 1685.6 L2084.5 1687.0 L2087.2 1688.4 L2089.9 1689.7 L2092.5 1691.1 L2095.2 1692.4 L2097.9 1693.8 L2100.6 1695.1 L2103.3 1696.4 L2106.0 1697.8 L2108.6 1699.1 L2111.3 1700.5 L2114.0 1701.9 L2116.6 1703.2 L2119.3 1704.5 L2122.1 1705.8 L2124.8 1707.0 L2127.6 1708.2 L2130.4 1709.3 L2133.2 1710.4 L2136.0 1711.5 L2138.8 1712.5 L2141.6 1713.5 L2144.4 1714.4 L2147.3 1715.4 L2150.2 1716.3 L2153.0 1717.2 L2155.9 1718.1 L2158.7 1719.0 L2161.6 1719.9 L2164.5 1720.8 L2167.4 1721.6 L2170.2 1722.4 L2173.2 1723.1 L2176.1 1723.8 L2179.0 1724.5 L2181.9 1725.2 L2184.9 1725.8 L2187.8 1726.4 L2190.7 1727.0 L2193.7 1727.6 L2196.6 1728.2 L2199.6 1728.8 L2202.5 1729.3 L2205.5 1729.8 L2208.4 1730.3 L2211.4 1730.8 L2214.3 1731.3 L2217.3 1731.7 L2220.3 1732.0 L2223.3 1732.3 L2226.3 1732.6 L2229.3 1732.8 L2232.3 1732.9 L2235.3 1733.1 L2238.2 1733.3 L2241.2 1733.4 L2244.2 1733.6 L2247.2 1733.8 L2250.2 1733.9 L2253.2 1734.0 L2256.2 1734.1 L2259.2 1734.2 L2261.2 1734.2 L2262.2 1734.2 L2265.2 1734.1 L2268.2 1734.0 L2271.2 1733.9 L2274.2 1733.7 L2277.2 1733.6 L2280.2 1733.3 L2283.2 1733.1 L2286.2 1732.9 L2289.2 1732.6 L2292.1 1732.2 L2295.1 1731.8 L2298.1 1731.4 L2301.1 1731.0 L2304.0 1730.7 L2307.0 1730.4 L2310.0 1730.1 L2313.0 1729.9 L2316.0 1729.7 L2319.0 1729.6 L2322.0 1729.6 L2325.0 1729.6 L2328.0 1729.6 L2331.0 1729.6 L2334.0 1729.6 L2337.0 1729.6 L2340.0 1729.6 L2343.0 1729.6 L2346.0 1729.6 L2349.0 1729.6 L2352.0 1729.6 L2355.0 1729.6 L2358.0 1729.6 L2361.0 1729.6 L2364.0 1729.6 L2367.0 1729.6 L2370.0 1729.6" stroke="#000000"/>
</g>
<g>
<rect x="1859" y="111.0" width="200" height="9" rx="2" ry="2" fill="#000000"/>
<rect x="1859" y="231.0" width="200" height="9" rx="2" ry="2" fill="#ff0000"/>
<rect x="1859" y="351.0" width="200" height="9" rx="2" ry="2" fill="#0000ff"/>
<rect x="1859" y="471.0" width="200" height="9" rx="2" ry="2" fill="#ff00ff"/>
</g>
<text transform="translate(0 143.20) scale(1.0000 1)" x="2072.05 2116.84 2138.82 2193.19" font-size="75.14" font-weight="normal">TiO<tspan font-size="51.80" dy="19.10">2</tspan></text>
<text transform="translate(0 263.20) scale(1.0000 1)" x="2072.05 2116.84 2138.82 2193.19 2219.09 2235.70 2260.72 2279.28" font-size="75.14" font-weight="normal">TiO<tspan font-size="51.80" dy="19.10">2</tspan><tspan dy="-19.10"> - A</tspan></text>
<text transform="translate(0 383.20) scale(1.0000 1)" x="2072.05 2116.84 2138.82 2193.19 2219.09 2235.70 2260.72 2276.79" font-size="75.14" font-weight="normal">TiO<tspan font-size="51.80" dy="19.10">2</tspan><tspan dy="-19.10"> - B</tspan></text>
<text transform="translate(0 503.20) scale(1.0000 1)" x="2072.05 2116.84 2138.82 2193.19 2219.09 2235.70 2260.72 2279.67" font-size="75.14" font-weight="normal">TiO<tspan font-size="51.80" dy="19.10">2</tspan><tspan dy="-19.10"> - C</tspan></text>
<text transform="translate(0 1858.20) scale(1.0000 1)" x="200.20 244.20 288.20" font-size="90.40" font-weight="bold">100</text>
<text transform="translate(0 1858.20) scale(1.0000 1)" x="499.20 543.20 587.20" font-size="90.40" font-weight="bold">200</text>
<text transform="translate(0 1858.20) scale(1.0000 1)" x="798.20 842.20 886.20" font-size="90.40" font-weight="bold">300</text>
<text transform="translate(0 1858.20) scale(1.0000 1)" x="1097.20 1141.20 1185.20" font-size="90.40" font-weight="bold">400</text>
<text transform="translate(0 1858.20) scale(1.0000 1)" x="1396.20 1440.20 1484.20" font-size="90.40" font-weight="bold">500</text>
<text transform="translate(0 1858.20) scale(1.0000 1)" x="1695.20 1739.20 1783.20" font-size="90.40" font-weight="bold">600</text>
<text transform="translate(0 1858.20) scale(1.0000 1)" x="1994.20 2038.20 2082.20" font-size="90.40" font-weight="bold">700</text>
<text transform="translate(0 1858.20) scale(1.0000 1)" x="2293.20 2337.20 2381.20" font-size="90.40" font-weight="bold">800</text>
<text transform="translate(0 2073.00) scale(0.9749 1)" x="887.96 964.93 1020.26 1113.25 1169.44 1230.60 1262.43 1326.29 1392.71 1429.14 1467.54 1504.16 1532.99 1565.44 1614.23 1707.20 1729.31 1769.71" font-size="109.96" font-weight="bold">Raman Shift <tspan font-size="93.85" dy="-9.60">(</tspan><tspan dy="9.60">cm</tspan><tspan font-size="78.20" dy="-42.20">-1</tspan><tspan font-size="93.85" dy="32.60">)</tspan></text>
<text transform="translate(125.00 0) rotate(-90) scale(0.9884 1)" x="-1196.41 -1157.53 -1100.20 -1065.20 -1017.97 -957.03 -914.56 -884.66 -850.07 -800.13 -771.52 -743.03 -693.62 -667.65 -610.20 -586.32" font-size="99.88" font-weight="bold">Intensity <tspan font-size="87.13" dy="-8.50">(</tspan><tspan dy="8.50">a.u.</tspan><tspan font-size="87.13" dy="-8.50">)</tspan></text>
<g><text transform="translate(374.45 155.90) scale(0.8464 1)" font-size="93.16" font-weight="bold">E</text><text transform="translate(426.13 182.33) scale(1.0983 1)" font-size="61.04" font-weight="bold">g</text></g>
<g><text transform="translate(576.34 1501.90) scale(0.8517 1)" font-size="93.16" font-weight="bold">E</text><text transform="translate(628.03 1528.47) scale(1.0969 1)" font-size="61.32" font-weight="bold">g</text></g>
<g><text transform="translate(1140.66 1439.90) scale(0.8656 1)" font-size="93.16" font-weight="bold">B</text><text transform="translate(1193.56 1463.90) scale(1.0960 1)" font-size="61.96" font-weight="bold">1</text><text transform="translate(1227.12 1466.68) scale(1.0932 1)" font-size="61.73" font-weight="bold">g</text></g>
<g><text transform="translate(1501.66 1258.00) scale(0.8690 1)" font-size="93.16" font-weight="bold">B</text><text transform="translate(1554.56 1282.00) scale(1.0934 1)" font-size="62.11" font-weight="bold">1</text><text transform="translate(1588.24 1284.40) scale(1.0923 1)" font-size="61.18" font-weight="bold">g</text></g>
<g><text transform="translate(1491.81 1394.00) scale(0.9820 1)" font-size="93.16" font-weight="bold">A</text><text transform="translate(1558.01 1418.00) scale(1.0530 1)" font-size="60.87" font-weight="bold">2</text><text transform="translate(1589.14 1420.33) scale(1.0912 1)" font-size="61.04" font-weight="bold">g</text></g>
<g><text transform="translate(1847.66 1132.90) scale(0.8428 1)" font-size="93.16" font-weight="bold">E</text><text transform="translate(1899.12 1158.47) scale(1.1004 1)" font-size="61.32" font-weight="bold">g</text></g>
</svg></body></html>
